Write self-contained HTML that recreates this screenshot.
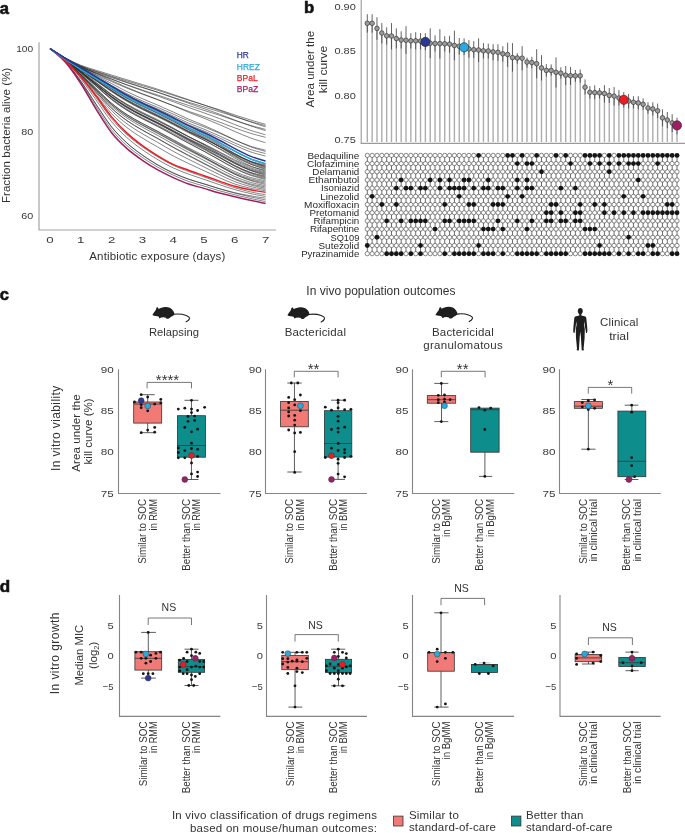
<!DOCTYPE html>
<html><head><meta charset="utf-8"><title>Figure</title>
<style>
html,body{margin:0;padding:0;background:#fff;}
body{width:685px;height:833px;overflow:hidden;}
svg{display:block;font-family:"Liberation Sans", sans-serif;will-change:transform;}
</style></head><body>
<svg width="685" height="833" viewBox="0 0 685 833" fill="#333">
<text x="-0.2" y="13.5" font-size="16.5" font-weight="bold" fill="#111" stroke="#111" stroke-width="0.6">a</text>
<path d="M39,42.3 L39,230 L275.9,230" fill="none" stroke="#a3a3a3" stroke-width="1.2" stroke-linejoin="round"/>
<text x="33.2" y="52" font-size="9.8" text-anchor="end" textLength="17" lengthAdjust="spacingAndGlyphs" fill="#3a3a3a">100</text>
<text x="33.2" y="135.4" font-size="9.8" text-anchor="end" textLength="12" lengthAdjust="spacingAndGlyphs" fill="#3a3a3a">80</text>
<text x="33.2" y="218.8" font-size="9.8" text-anchor="end" textLength="12" lengthAdjust="spacingAndGlyphs" fill="#3a3a3a">60</text>
<text x="50" y="243" font-size="9.8" text-anchor="middle" textLength="7.4" lengthAdjust="spacingAndGlyphs" fill="#3a3a3a">0</text>
<text x="80.8" y="243" font-size="9.8" text-anchor="middle" textLength="7.4" lengthAdjust="spacingAndGlyphs" fill="#3a3a3a">1</text>
<text x="111.6" y="243" font-size="9.8" text-anchor="middle" textLength="7.4" lengthAdjust="spacingAndGlyphs" fill="#3a3a3a">2</text>
<text x="142.4" y="243" font-size="9.8" text-anchor="middle" textLength="7.4" lengthAdjust="spacingAndGlyphs" fill="#3a3a3a">3</text>
<text x="173.2" y="243" font-size="9.8" text-anchor="middle" textLength="7.4" lengthAdjust="spacingAndGlyphs" fill="#3a3a3a">4</text>
<text x="204" y="243" font-size="9.8" text-anchor="middle" textLength="7.4" lengthAdjust="spacingAndGlyphs" fill="#3a3a3a">5</text>
<text x="234.8" y="243" font-size="9.8" text-anchor="middle" textLength="7.4" lengthAdjust="spacingAndGlyphs" fill="#3a3a3a">6</text>
<text x="265.6" y="243" font-size="9.8" text-anchor="middle" textLength="7.4" lengthAdjust="spacingAndGlyphs" fill="#3a3a3a">7</text>
<text x="157.3" y="260.3" font-size="11.5" text-anchor="middle" textLength="136" lengthAdjust="spacing">Antibiotic exposure (days)</text>
<text transform="translate(9.6,135.4) rotate(-90)" font-size="11.5" text-anchor="middle" textLength="135.4" lengthAdjust="spacing">Fraction bacteria alive (%)</text>
<g fill="none" stroke="#2a2a2a" stroke-width="0.7" stroke-opacity="0.82">
<path d="M50,48.5 C52.57,50.15 60.27,55.44 65.4,58.39 C70.53,61.33 75.67,64 80.8,66.17 C85.93,68.34 91.07,69.75 96.2,71.43 C101.33,73.1 106.47,74.63 111.6,76.22 C116.73,77.81 121.87,79.39 127,80.97 C132.13,82.54 137.27,84.1 142.4,85.65 C147.53,87.2 152.67,88.67 157.8,90.27 C162.93,91.87 168.07,93.6 173.2,95.24 C178.33,96.89 183.47,98.52 188.6,100.15 C193.73,101.77 198.87,103.39 204,104.99 C209.13,106.6 214.27,108.13 219.4,109.79 C224.53,111.45 229.67,113.28 234.8,114.96 C239.93,116.64 245.07,118.32 250.2,119.89 C255.33,121.47 263.03,123.64 265.6,124.39"/>
<path d="M50,48.5 C52.57,50.2 60.27,55.64 65.4,58.69 C70.53,61.74 75.67,64.51 80.8,66.81 C85.93,69.1 91.07,70.65 96.2,72.45 C101.33,74.25 106.47,75.9 111.6,77.61 C116.73,79.31 121.87,81 127,82.66 C132.13,84.32 137.27,85.95 142.4,87.56 C147.53,89.16 152.67,90.67 157.8,92.29 C162.93,93.92 168.07,95.66 173.2,97.32 C178.33,98.97 183.47,100.62 188.6,102.23 C193.73,103.84 198.87,105.41 204,106.98 C209.13,108.56 214.27,110.05 219.4,111.67 C224.53,113.28 229.67,115.06 234.8,116.69 C239.93,118.32 245.07,119.93 250.2,121.43 C255.33,122.92 263.03,124.94 265.6,125.64"/>
<path d="M50,48.5 C52.57,50.06 60.27,55.08 65.4,57.87 C70.53,60.66 75.67,63.17 80.8,65.25 C85.93,67.32 91.07,68.69 96.2,70.32 C101.33,71.95 106.47,73.46 111.6,75.04 C116.73,76.62 121.87,78.22 127,79.81 C132.13,81.39 137.27,82.96 142.4,84.54 C147.53,86.11 152.67,87.61 157.8,89.27 C162.93,90.92 168.07,92.72 173.2,94.47 C178.33,96.22 183.47,98 188.6,99.76 C193.73,101.51 198.87,103.25 204,105.02 C209.13,106.8 214.27,108.52 219.4,110.39 C224.53,112.26 229.67,114.32 234.8,116.23 C239.93,118.13 245.07,120.06 250.2,121.83 C255.33,123.61 263.03,126.05 265.6,126.9"/>
<path d="M50,48.5 C52.57,50.23 60.27,55.73 65.4,58.86 C70.53,61.99 75.67,64.84 80.8,67.27 C85.93,69.71 91.07,71.47 96.2,73.45 C101.33,75.44 106.47,77.29 111.6,79.18 C116.73,81.06 121.87,82.96 127,84.77 C132.13,86.58 137.27,88.34 142.4,90.05 C147.53,91.76 152.67,93.35 157.8,95.06 C162.93,96.77 168.07,98.58 173.2,100.32 C178.33,102.06 183.47,103.81 188.6,105.49 C193.73,107.16 198.87,108.74 204,110.37 C209.13,111.99 214.27,113.55 219.4,115.23 C224.53,116.91 229.67,118.77 234.8,120.44 C239.93,122.12 245.07,123.8 250.2,125.29 C255.33,126.78 263.03,128.71 265.6,129.4"/>
<path d="M50,48.5 C52.57,50.1 60.27,55.21 65.4,58.1 C70.53,60.99 75.67,63.6 80.8,65.84 C85.93,68.07 91.07,69.67 96.2,71.5 C101.33,73.33 106.47,75.05 111.6,76.83 C116.73,78.6 121.87,80.42 127,82.16 C132.13,83.91 137.27,85.61 142.4,87.3 C147.53,88.99 152.67,90.56 157.8,92.3 C162.93,94.05 168.07,95.92 173.2,97.74 C178.33,99.57 183.47,101.45 188.6,103.26 C193.73,105.08 198.87,106.81 204,108.62 C209.13,110.43 214.27,112.21 219.4,114.13 C224.53,116.04 229.67,118.16 234.8,120.1 C239.93,122.04 245.07,124 250.2,125.76 C255.33,127.52 263.03,129.83 265.6,130.65"/>
<path d="M50,48.5 C52.57,50.16 60.27,55.41 65.4,58.43 C70.53,61.45 75.67,64.2 80.8,66.63 C85.93,69.06 91.07,70.93 96.2,73.01 C101.33,75.08 106.47,77.05 111.6,79.06 C116.73,81.07 121.87,83.13 127,85.07 C132.13,87 137.27,88.85 142.4,90.68 C147.53,92.5 152.67,94.16 157.8,96 C162.93,97.83 168.07,99.78 173.2,101.69 C178.33,103.6 183.47,105.58 188.6,107.45 C193.73,109.31 198.87,111.03 204,112.86 C209.13,114.7 214.27,116.53 219.4,118.48 C224.53,120.42 229.67,122.59 234.8,124.54 C239.93,126.49 245.07,128.48 250.2,130.19 C255.33,131.9 263.03,134.05 265.6,134.82"/>
<path d="M50,48.5 C52.57,50.25 60.27,55.76 65.4,58.98 C70.53,62.19 75.67,65.12 80.8,67.77 C85.93,70.42 91.07,72.57 96.2,74.87 C101.33,77.18 106.47,79.38 111.6,81.6 C116.73,83.82 121.87,86.1 127,88.2 C132.13,90.3 137.27,92.28 142.4,94.21 C147.53,96.13 152.67,97.87 157.8,99.76 C162.93,101.65 168.07,103.63 173.2,105.56 C178.33,107.49 183.47,109.5 188.6,111.35 C193.73,113.19 198.87,114.83 204,116.62 C209.13,118.4 214.27,120.18 219.4,122.05 C224.53,123.93 229.67,126.01 234.8,127.87 C239.93,129.73 245.07,131.62 250.2,133.19 C255.33,134.77 263.03,136.63 265.6,137.32"/>
<path d="M50,48.5 C52.57,50.13 60.27,55.27 65.4,58.29 C70.53,61.31 75.67,64.05 80.8,66.62 C85.93,69.18 91.07,71.37 96.2,73.69 C101.33,76.02 106.47,78.27 111.6,80.57 C116.73,82.86 121.87,85.25 127,87.44 C132.13,89.63 137.27,91.68 142.4,93.69 C147.53,95.7 152.67,97.51 157.8,99.53 C162.93,101.54 168.07,103.66 173.2,105.78 C178.33,107.9 183.47,110.18 188.6,112.25 C193.73,114.32 198.87,116.15 204,118.2 C209.13,120.25 214.27,122.36 219.4,124.57 C224.53,126.78 229.67,129.25 234.8,131.46 C239.93,133.67 245.07,135.95 250.2,137.83 C255.33,139.71 263.03,141.92 265.6,142.74"/>
<path d="M50,48.5 C52.57,50.28 60.27,55.81 65.4,59.16 C70.53,62.5 75.67,65.57 80.8,68.57 C85.93,71.57 91.07,74.34 96.2,77.17 C101.33,80 106.47,82.77 111.6,85.54 C116.73,88.31 121.87,91.2 127,93.77 C132.13,96.34 137.27,98.7 142.4,100.97 C147.53,103.24 152.67,105.22 157.8,107.4 C162.93,109.59 168.07,111.84 173.2,114.08 C178.33,116.33 183.47,118.77 188.6,120.89 C193.73,123.01 198.87,124.75 204,126.8 C209.13,128.85 214.27,130.97 219.4,133.16 C224.53,135.36 229.67,137.83 234.8,139.98 C239.93,142.14 245.07,144.37 250.2,146.08 C255.33,147.79 263.03,149.55 265.6,150.25"/>
<path d="M50,48.5 C52.57,50.17 60.27,55.37 65.4,58.51 C70.53,61.65 75.67,64.52 80.8,67.35 C85.93,70.19 91.07,72.83 96.2,75.53 C101.33,78.24 106.47,80.9 111.6,83.59 C116.73,86.27 121.87,89.1 127,91.62 C132.13,94.14 137.27,96.45 142.4,98.71 C147.53,100.96 152.67,102.94 157.8,105.16 C162.93,107.37 168.07,109.67 173.2,112 C178.33,114.32 183.47,116.88 188.6,119.12 C193.73,121.36 198.87,123.24 204,125.45 C209.13,127.66 214.27,129.97 219.4,132.38 C224.53,134.78 229.67,137.48 234.8,139.86 C239.93,142.24 245.07,144.72 250.2,146.66 C255.33,148.6 263.03,150.69 265.6,151.5"/>
<path d="M50,48.5 C52.57,50.27 60.27,55.78 65.4,59.14 C70.53,62.5 75.67,65.58 80.8,68.66 C85.93,71.73 91.07,74.64 96.2,77.59 C101.33,80.54 106.47,83.44 111.6,86.34 C116.73,89.23 121.87,92.27 127,94.96 C132.13,97.64 137.27,100.08 142.4,102.44 C147.53,104.79 152.67,106.83 157.8,109.09 C162.93,111.36 168.07,113.67 173.2,116.01 C178.33,118.34 183.47,120.9 188.6,123.1 C193.73,125.29 198.87,127.08 204,129.21 C209.13,131.33 214.27,133.56 219.4,135.86 C224.53,138.15 229.67,140.74 234.8,142.99 C239.93,145.23 245.07,147.57 250.2,149.34 C255.33,151.11 263.03,152.88 265.6,153.58"/>
<path d="M50,48.5 C52.57,50.27 60.27,55.76 65.4,59.13 C70.53,62.51 75.67,65.6 80.8,68.73 C85.93,71.86 91.07,74.88 96.2,77.92 C101.33,80.96 106.47,83.96 111.6,86.95 C116.73,89.94 121.87,93.1 127,95.87 C132.13,98.64 137.27,101.14 142.4,103.56 C147.53,105.98 152.67,108.07 157.8,110.39 C162.93,112.71 168.07,115.08 173.2,117.48 C178.33,119.87 183.47,122.51 188.6,124.77 C193.73,127.03 198.87,128.85 204,131.03 C209.13,133.22 214.27,135.52 219.4,137.89 C224.53,140.26 229.67,142.93 234.8,145.25 C239.93,147.57 245.07,149.99 250.2,151.79 C255.33,153.6 263.03,155.37 265.6,156.09"/>
<path d="M50,48.5 C52.57,50.22 60.27,55.45 65.4,58.79 C70.53,62.14 75.67,65.3 80.8,68.56 C85.93,71.83 91.07,75.12 96.2,78.38 C101.33,81.64 106.47,84.93 111.6,88.12 C116.73,91.3 121.87,94.59 127,97.49 C132.13,100.38 137.27,102.96 142.4,105.48 C147.53,108.01 152.67,110.19 157.8,112.65 C162.93,115.11 168.07,117.66 173.2,120.26 C178.33,122.85 183.47,125.74 188.6,128.24 C193.73,130.74 198.87,132.79 204,135.27 C209.13,137.74 214.27,140.39 219.4,143.09 C224.53,145.78 229.67,148.82 234.8,151.44 C239.93,154.05 245.07,156.76 250.2,158.78 C255.33,160.81 263.03,162.79 265.6,163.59"/>
<path d="M50,48.5 C52.57,50.11 60.27,55.01 65.4,58.17 C70.53,61.33 75.67,64.35 80.8,67.47 C85.93,70.59 91.07,73.75 96.2,76.89 C101.33,80.04 106.47,83.23 111.6,86.31 C116.73,89.39 121.87,92.57 127,95.37 C132.13,98.18 137.27,100.68 142.4,103.16 C147.53,105.64 152.67,107.8 157.8,110.27 C162.93,112.75 168.07,115.33 173.2,117.99 C178.33,120.65 183.47,123.62 188.6,126.23 C193.73,128.85 198.87,131.05 204,133.69 C209.13,136.32 214.27,139.16 219.4,142.05 C224.53,144.94 229.67,148.18 234.8,151 C239.93,153.82 245.07,156.74 250.2,158.97 C255.33,161.21 263.03,163.52 265.6,164.43"/>
<path d="M50,48.5 C52.57,50.32 60.27,55.82 65.4,59.4 C70.53,62.98 75.67,66.44 80.8,69.97 C85.93,73.5 91.07,77.08 96.2,80.58 C101.33,84.09 106.47,87.64 111.6,91 C116.73,94.36 121.87,97.75 127,100.74 C132.13,103.73 137.27,106.35 142.4,108.93 C147.53,111.51 152.67,113.72 157.8,116.2 C162.93,118.68 168.07,121.24 173.2,123.83 C178.33,126.41 183.47,129.25 188.6,131.71 C193.73,134.17 198.87,136.19 204,138.6 C209.13,141.02 214.27,143.6 219.4,146.19 C224.53,148.79 229.67,151.7 234.8,154.17 C239.93,156.64 245.07,159.16 250.2,161.01 C255.33,162.86 263.03,164.55 265.6,165.26"/>
<path d="M50,48.5 C52.57,50.3 60.27,55.72 65.4,59.28 C70.53,62.83 75.67,66.28 80.8,69.81 C85.93,73.33 91.07,76.91 96.2,80.42 C101.33,83.93 106.47,87.49 111.6,90.85 C116.73,94.2 121.87,97.56 127,100.53 C132.13,103.51 137.27,106.11 142.4,108.68 C147.53,111.25 152.67,113.46 157.8,115.95 C162.93,118.44 168.07,121.02 173.2,123.62 C178.33,126.23 183.47,129.08 188.6,131.58 C193.73,134.08 198.87,136.15 204,138.62 C209.13,141.08 214.27,143.72 219.4,146.37 C224.53,149.02 229.67,151.99 234.8,154.51 C239.93,157.03 245.07,159.59 250.2,161.49 C255.33,163.39 263.03,165.15 265.6,165.89"/>
<path d="M50,48.5 C52.57,50.19 60.27,55.28 65.4,58.64 C70.53,62 75.67,65.29 80.8,68.65 C85.93,72.02 91.07,75.46 96.2,78.83 C101.33,82.21 106.47,85.67 111.6,88.91 C116.73,92.15 121.87,95.39 127,98.27 C132.13,101.15 137.27,103.68 142.4,106.2 C147.53,108.73 152.67,110.92 157.8,113.42 C162.93,115.91 168.07,118.53 173.2,121.19 C178.33,123.86 183.47,126.79 188.6,129.4 C193.73,132.01 198.87,134.23 204,136.85 C209.13,139.47 214.27,142.29 219.4,145.12 C224.53,147.96 229.67,151.14 234.8,153.86 C239.93,156.58 245.07,159.35 250.2,161.46 C255.33,163.57 263.03,165.67 265.6,166.51"/>
<path d="M50,48.5 C52.57,50.11 60.27,54.93 65.4,58.15 C70.53,61.36 75.67,64.52 80.8,67.77 C85.93,71.02 91.07,74.36 96.2,77.64 C101.33,80.92 106.47,84.3 111.6,87.46 C116.73,90.62 121.87,93.77 127,96.58 C132.13,99.39 137.27,101.86 142.4,104.35 C147.53,106.84 152.67,109.01 157.8,111.52 C162.93,114.03 168.07,116.67 173.2,119.38 C178.33,122.1 183.47,125.1 188.6,127.79 C193.73,130.49 198.87,132.83 204,135.57 C209.13,138.32 214.27,141.29 219.4,144.27 C224.53,147.26 229.67,150.6 234.8,153.49 C239.93,156.37 245.07,159.3 250.2,161.58 C255.33,163.85 263.03,166.21 265.6,167.14"/>
<path d="M50,48.5 C52.57,50.22 60.27,55.36 65.4,58.8 C70.53,62.24 75.67,65.66 80.8,69.14 C85.93,72.62 91.07,76.19 96.2,79.68 C101.33,83.17 106.47,86.76 111.6,90.07 C116.73,93.39 121.87,96.65 127,99.57 C132.13,102.48 137.27,105.01 142.4,107.55 C147.53,110.1 152.67,112.3 157.8,114.81 C162.93,117.33 168.07,119.96 173.2,122.64 C178.33,125.31 183.47,128.25 188.6,130.87 C193.73,133.49 198.87,135.73 204,138.36 C209.13,140.99 214.27,143.83 219.4,146.66 C224.53,149.49 229.67,152.67 234.8,155.36 C239.93,158.06 245.07,160.78 250.2,162.84 C255.33,164.91 263.03,166.94 265.6,167.76"/>
<path d="M50,48.5 C52.57,50.28 60.27,55.58 65.4,59.16 C70.53,62.73 75.67,66.32 80.8,69.95 C85.93,73.58 91.07,77.3 96.2,80.93 C101.33,84.56 106.47,88.31 111.6,91.72 C116.73,95.14 121.87,98.46 127,101.43 C132.13,104.4 137.27,106.97 142.4,109.54 C147.53,112.11 152.67,114.34 157.8,116.86 C162.93,119.39 168.07,122.03 173.2,124.69 C178.33,127.36 183.47,130.26 188.6,132.85 C193.73,135.44 198.87,137.66 204,140.25 C209.13,142.84 214.27,145.61 219.4,148.38 C224.53,151.15 229.67,154.24 234.8,156.85 C239.93,159.45 245.07,162.06 250.2,164.01 C255.33,165.97 263.03,167.83 265.6,168.6"/>
<path d="M50,48.5 C52.57,50.12 60.27,54.95 65.4,58.24 C70.53,61.54 75.67,64.88 80.8,68.28 C85.93,71.68 91.07,75.2 96.2,78.64 C101.33,82.08 106.47,85.66 111.6,88.92 C116.73,92.18 121.87,95.33 127,98.17 C132.13,101.02 137.27,103.47 142.4,105.98 C147.53,108.49 152.67,110.68 157.8,113.22 C162.93,115.76 168.07,118.45 173.2,121.2 C178.33,123.94 183.47,126.96 188.6,129.7 C193.73,132.45 198.87,134.87 204,137.68 C209.13,140.49 214.27,143.52 219.4,146.55 C224.53,149.59 229.67,152.97 234.8,155.86 C239.93,158.76 245.07,161.65 250.2,163.91 C255.33,166.18 263.03,168.51 265.6,169.43"/>
<path d="M50,48.5 C52.57,50.39 60.27,56.01 65.4,59.85 C70.53,63.69 75.67,67.6 80.8,71.53 C85.93,75.45 91.07,79.5 96.2,83.41 C101.33,87.32 106.47,91.36 111.6,94.98 C116.73,98.6 121.87,102.05 127,105.13 C132.13,108.21 137.27,110.84 142.4,113.48 C147.53,116.11 152.67,118.37 157.8,120.92 C162.93,123.46 168.07,126.12 173.2,128.76 C178.33,131.4 183.47,134.24 188.6,136.78 C193.73,139.31 198.87,141.48 204,143.98 C209.13,146.49 214.27,149.16 219.4,151.8 C224.53,154.43 229.67,157.37 234.8,159.8 C239.93,162.22 245.07,164.59 250.2,166.34 C255.33,168.08 263.03,169.61 265.6,170.26"/>
<path d="M50,48.5 C52.57,50.17 60.27,55.12 65.4,58.55 C70.53,61.98 75.67,65.52 80.8,69.1 C85.93,72.68 91.07,76.41 96.2,80.03 C101.33,83.65 106.47,87.45 111.6,90.83 C116.73,94.21 121.87,97.42 127,100.32 C132.13,103.22 137.27,105.7 142.4,108.24 C147.53,110.78 152.67,113 157.8,115.56 C162.93,118.12 168.07,120.84 173.2,123.59 C178.33,126.35 183.47,129.34 188.6,132.08 C193.73,134.83 198.87,137.27 204,140.08 C209.13,142.88 214.27,145.9 219.4,148.9 C224.53,151.9 229.67,155.24 234.8,158.06 C239.93,160.89 245.07,163.68 250.2,165.85 C255.33,168.03 263.03,170.22 265.6,171.1"/>
<path d="M50,48.5 C52.57,50.34 60.27,55.77 65.4,59.55 C70.53,63.33 75.67,67.25 80.8,71.18 C85.93,75.11 91.07,79.19 96.2,83.12 C101.33,87.06 106.47,91.17 111.6,94.79 C116.73,98.41 121.87,101.8 127,104.86 C132.13,107.91 137.27,110.5 142.4,113.12 C147.53,115.74 152.67,118 157.8,120.58 C162.93,123.15 168.07,125.85 173.2,128.54 C178.33,131.24 183.47,134.12 188.6,136.74 C193.73,139.37 198.87,141.66 204,144.28 C209.13,146.9 214.27,149.72 219.4,152.47 C224.53,155.23 229.67,158.3 234.8,160.83 C239.93,163.37 245.07,165.83 250.2,167.68 C255.33,169.53 263.03,171.22 265.6,171.93"/>
<path d="M50,48.5 C52.57,50.39 60.27,55.95 65.4,59.85 C70.53,63.75 75.67,67.81 80.8,71.88 C85.93,75.94 91.07,80.17 96.2,84.23 C101.33,88.3 106.47,92.55 111.6,96.27 C116.73,99.99 121.87,103.44 127,106.54 C132.13,109.65 137.27,112.27 142.4,114.91 C147.53,117.56 152.67,119.85 157.8,122.43 C162.93,125.01 168.07,127.72 173.2,130.41 C178.33,133.1 183.47,135.95 188.6,138.55 C193.73,141.16 198.87,143.43 204,146.02 C209.13,148.6 214.27,151.37 219.4,154.07 C224.53,156.78 229.67,159.77 234.8,162.23 C239.93,164.68 245.07,167.04 250.2,168.8 C255.33,170.55 263.03,172.1 265.6,172.77"/>
<path d="M50,48.5 C52.57,50.41 60.27,56 65.4,59.95 C70.53,63.9 75.67,68.05 80.8,72.19 C85.93,76.33 91.07,80.65 96.2,84.79 C101.33,88.94 106.47,93.29 111.6,97.07 C116.73,100.84 121.87,104.31 127,107.44 C132.13,110.57 137.27,113.19 142.4,115.85 C147.53,118.52 152.67,120.81 157.8,123.41 C162.93,126 168.07,128.73 173.2,131.42 C178.33,134.12 183.47,136.97 188.6,139.58 C193.73,142.18 198.87,144.48 204,147.07 C209.13,149.66 214.27,152.43 219.4,155.13 C224.53,157.82 229.67,160.81 234.8,163.24 C239.93,165.67 245.07,167.99 250.2,169.72 C255.33,171.45 263.03,172.95 265.6,173.6"/>
<path d="M50,48.5 C52.57,50.36 60.27,55.8 65.4,59.68 C70.53,63.57 75.67,67.68 80.8,71.79 C85.93,75.9 91.07,80.21 96.2,84.34 C101.33,88.48 106.47,92.84 111.6,96.6 C116.73,100.35 121.87,103.77 127,106.88 C132.13,109.98 137.27,112.57 142.4,115.22 C147.53,117.87 152.67,120.17 157.8,122.78 C162.93,125.38 168.07,128.14 173.2,130.87 C178.33,133.59 183.47,136.48 188.6,139.14 C193.73,141.81 198.87,144.19 204,146.86 C209.13,149.53 214.27,152.39 219.4,155.17 C224.53,157.96 229.67,161.04 234.8,163.56 C239.93,166.07 245.07,168.47 250.2,170.28 C255.33,172.09 263.03,173.74 265.6,174.43"/>
<path d="M50,48.5 C52.57,50.23 60.27,55.25 65.4,58.89 C70.53,62.54 75.67,66.45 80.8,70.37 C85.93,74.29 91.07,78.43 96.2,82.41 C101.33,86.4 106.47,90.65 111.6,94.28 C116.73,97.91 121.87,101.19 127,104.19 C132.13,107.19 137.27,109.69 142.4,112.29 C147.53,114.89 152.67,117.16 157.8,119.78 C162.93,122.4 168.07,125.21 173.2,128.01 C178.33,130.81 183.47,133.79 188.6,136.59 C193.73,139.39 198.87,141.94 204,144.8 C209.13,147.66 214.27,150.74 219.4,153.75 C224.53,156.76 229.67,160.08 234.8,162.84 C239.93,165.6 245.07,168.24 250.2,170.32 C255.33,172.39 263.03,174.44 265.6,175.27"/>
<path d="M50,48.5 C52.57,50.42 60.27,55.98 65.4,60.01 C70.53,64.04 75.67,68.36 80.8,72.67 C85.93,76.97 91.07,81.5 96.2,85.84 C101.33,90.17 106.47,94.78 111.6,98.68 C116.73,102.58 121.87,106.07 127,109.25 C132.13,112.42 137.27,115.05 142.4,117.74 C147.53,120.43 152.67,122.75 157.8,125.39 C162.93,128.02 168.07,130.8 173.2,133.54 C178.33,136.27 183.47,139.12 188.6,141.78 C193.73,144.43 198.87,146.82 204,149.47 C209.13,152.12 214.27,154.95 219.4,157.68 C224.53,160.42 229.67,163.43 234.8,165.86 C239.93,168.29 245.07,170.55 250.2,172.26 C255.33,173.97 263.03,175.46 265.6,176.1"/>
<path d="M50,48.5 C52.57,50.32 60.27,55.54 65.4,59.39 C70.53,63.24 75.67,67.42 80.8,71.6 C85.93,75.77 91.07,80.18 96.2,84.42 C101.33,88.65 106.47,93.19 111.6,97.01 C116.73,100.83 121.87,104.21 127,107.32 C132.13,110.42 137.27,112.97 142.4,115.62 C147.53,118.28 152.67,120.59 157.8,123.24 C162.93,125.88 168.07,128.71 173.2,131.5 C178.33,134.29 183.47,137.22 188.6,139.98 C193.73,142.74 198.87,145.27 204,148.07 C209.13,150.87 214.27,153.88 219.4,156.78 C224.53,159.69 229.67,162.89 234.8,165.51 C239.93,168.12 245.07,170.57 250.2,172.48 C255.33,174.38 263.03,176.19 265.6,176.94"/>
<path d="M50,48.5 C52.57,50.31 60.27,55.49 65.4,59.35 C70.53,63.21 75.67,67.43 80.8,71.64 C85.93,75.85 91.07,80.33 96.2,84.61 C101.33,88.9 106.47,93.52 111.6,97.37 C116.73,101.22 121.87,104.61 127,107.72 C132.13,110.84 137.27,113.38 142.4,116.04 C147.53,118.71 152.67,121.03 157.8,123.69 C162.93,126.35 168.07,129.2 173.2,132.01 C178.33,134.81 183.47,137.75 188.6,140.53 C193.73,143.32 198.87,145.88 204,148.71 C209.13,151.54 214.27,154.57 219.4,157.5 C224.53,160.43 229.67,163.65 234.8,166.28 C239.93,168.91 245.07,171.36 250.2,173.27 C255.33,175.19 263.03,177.02 265.6,177.77"/>
<path d="M50,48.5 C52.57,50.39 60.27,55.81 65.4,59.85 C70.53,63.89 75.67,68.33 80.8,72.75 C85.93,77.16 91.07,81.85 96.2,86.33 C101.33,90.81 106.47,95.64 111.6,99.64 C116.73,103.65 121.87,107.14 127,110.34 C132.13,113.54 137.27,116.15 142.4,118.86 C147.53,121.57 152.67,123.92 157.8,126.6 C162.93,129.27 168.07,132.12 173.2,134.91 C178.33,137.69 183.47,140.57 188.6,143.29 C193.73,146.02 198.87,148.53 204,151.27 C209.13,154.01 214.27,156.94 219.4,159.75 C224.53,162.56 229.67,165.64 234.8,168.12 C239.93,170.59 245.07,172.86 250.2,174.61 C255.33,176.36 263.03,177.94 265.6,178.6"/>
<path d="M50,48.5 C52.57,50.35 60.27,55.63 65.4,59.61 C70.53,63.6 75.67,68.02 80.8,72.41 C85.93,76.81 91.07,81.5 96.2,85.99 C101.33,90.48 106.47,95.34 111.6,99.34 C116.73,103.34 121.87,106.81 127,109.99 C132.13,113.18 137.27,115.76 142.4,118.47 C147.53,121.17 152.67,123.53 157.8,126.22 C162.93,128.91 168.07,131.79 173.2,134.6 C178.33,137.41 183.47,140.32 188.6,143.09 C193.73,145.87 198.87,148.45 204,151.25 C209.13,154.06 214.27,157.07 219.4,159.95 C224.53,162.83 229.67,165.98 234.8,168.52 C239.93,171.07 245.07,173.39 250.2,175.21 C255.33,177.03 263.03,178.73 265.6,179.44"/>
<path d="M50,48.5 C52.57,50.5 60.27,56.2 65.4,60.51 C70.53,64.82 75.67,69.61 80.8,74.35 C85.93,79.1 91.07,84.16 96.2,88.99 C101.33,93.81 106.47,99.04 111.6,103.31 C116.73,107.57 121.87,111.22 127,114.57 C132.13,117.92 137.27,120.61 142.4,123.41 C147.53,126.2 152.67,128.61 157.8,131.32 C162.93,134.03 168.07,136.91 173.2,139.67 C178.33,142.44 183.47,145.24 188.6,147.9 C193.73,150.57 198.87,153.02 204,155.67 C209.13,158.31 214.27,161.12 219.4,163.77 C224.53,166.43 229.67,169.32 234.8,171.59 C239.93,173.85 245.07,175.85 250.2,177.37 C255.33,178.89 263.03,180.14 265.6,180.69"/>
<path d="M50,48.5 C52.57,50.52 60.27,56.22 65.4,60.6 C70.53,64.97 75.67,69.87 80.8,74.73 C85.93,79.59 91.07,84.79 96.2,89.75 C101.33,94.71 106.47,100.12 111.6,104.49 C116.73,108.86 121.87,112.56 127,115.96 C132.13,119.36 137.27,122.07 142.4,124.89 C147.53,127.71 152.67,130.16 157.8,132.89 C162.93,135.63 168.07,138.53 173.2,141.31 C178.33,144.08 183.47,146.86 188.6,149.52 C193.73,152.19 198.87,154.67 204,157.31 C209.13,159.96 214.27,162.76 219.4,165.39 C224.53,168.02 229.67,170.88 234.8,173.1 C239.93,175.33 245.07,177.26 250.2,178.73 C255.33,180.2 263.03,181.41 265.6,181.94"/>
<path d="M50,48.5 C52.57,50.49 60.27,56.08 65.4,60.44 C70.53,64.79 75.67,69.72 80.8,74.62 C85.93,79.53 91.07,84.81 96.2,89.84 C101.33,94.88 106.47,100.41 111.6,104.84 C116.73,109.27 121.87,112.98 127,116.4 C132.13,119.83 137.27,122.53 142.4,125.37 C147.53,128.21 152.67,130.67 157.8,133.43 C162.93,136.19 168.07,139.14 173.2,141.94 C178.33,144.74 183.47,147.52 188.6,150.22 C193.73,152.92 198.87,155.46 204,158.15 C209.13,160.84 214.27,163.68 219.4,166.35 C224.53,169.02 229.67,171.91 234.8,174.16 C239.93,176.41 245.07,178.35 250.2,179.85 C255.33,181.36 263.03,182.63 265.6,183.19"/>
<path d="M50,48.5 C52.57,50.37 60.27,55.57 65.4,59.73 C70.53,63.89 75.67,68.68 80.8,73.46 C85.93,78.24 91.07,83.44 96.2,88.42 C101.33,93.4 106.47,98.95 111.6,103.33 C116.73,107.71 121.87,111.35 127,114.72 C132.13,118.09 137.27,120.74 142.4,123.56 C147.53,126.38 152.67,128.84 157.8,131.63 C162.93,134.42 168.07,137.43 173.2,140.29 C178.33,143.15 183.47,145.99 188.6,148.8 C193.73,151.61 198.87,154.3 204,157.14 C209.13,159.98 214.27,162.99 219.4,165.83 C224.53,168.67 229.67,171.74 234.8,174.18 C239.93,176.61 245.07,178.72 250.2,180.43 C255.33,182.15 263.03,183.77 265.6,184.44"/>
<path d="M50,48.5 C52.57,50.46 60.27,55.87 65.4,60.24 C70.53,64.6 75.67,69.64 80.8,74.67 C85.93,79.71 91.07,85.19 96.2,90.44 C101.33,95.68 106.47,101.55 111.6,106.16 C116.73,110.76 121.87,114.55 127,118.06 C132.13,121.56 137.27,124.31 142.4,127.2 C147.53,130.1 152.67,132.62 157.8,135.44 C162.93,138.25 168.07,141.27 173.2,144.11 C178.33,146.94 183.47,149.7 188.6,152.43 C193.73,155.16 198.87,157.78 204,160.51 C209.13,163.23 214.27,166.11 219.4,168.79 C224.53,171.47 229.67,174.36 234.8,176.6 C239.93,178.84 245.07,180.73 250.2,182.24 C255.33,183.76 263.03,185.12 265.6,185.69"/>
<path d="M50,48.5 C52.57,50.5 60.27,56.02 65.4,60.51 C70.53,65 75.67,70.22 80.8,75.44 C85.93,80.66 91.07,86.37 96.2,91.84 C101.33,97.31 106.47,103.47 111.6,108.26 C116.73,113.05 121.87,116.97 127,120.59 C132.13,124.22 137.27,127.03 142.4,130 C147.53,132.96 152.67,135.53 157.8,138.38 C162.93,141.23 168.07,144.28 173.2,147.09 C178.33,149.91 183.47,152.6 188.6,155.28 C193.73,157.96 198.87,160.53 204,163.18 C209.13,165.83 214.27,168.6 219.4,171.18 C224.53,173.75 229.67,176.5 234.8,178.61 C239.93,180.72 245.07,182.44 250.2,183.83 C255.33,185.22 263.03,186.43 265.6,186.94"/>
<path d="M50,48.5 C52.57,50.44 60.27,55.73 65.4,60.15 C70.53,64.56 75.67,69.75 80.8,74.97 C85.93,80.19 91.07,85.95 96.2,91.49 C101.33,97.04 106.47,103.35 111.6,108.22 C116.73,113.09 121.87,117.05 127,120.72 C132.13,124.38 137.27,127.21 142.4,130.21 C147.53,133.21 152.67,135.82 157.8,138.71 C162.93,141.59 168.07,144.69 173.2,147.52 C178.33,150.36 183.47,153.04 188.6,155.75 C193.73,158.45 198.87,161.08 204,163.77 C209.13,166.46 214.27,169.27 219.4,171.88 C224.53,174.49 229.67,177.28 234.8,179.43 C239.93,181.58 245.07,183.34 250.2,184.8 C255.33,186.26 263.03,187.63 265.6,188.19"/>
<path d="M50,48.5 C52.57,50.49 60.27,55.9 65.4,60.46 C70.53,65.01 75.67,70.39 80.8,75.83 C85.93,81.28 91.07,87.29 96.2,93.11 C101.33,98.93 106.47,105.61 111.6,110.74 C116.73,115.86 121.87,120.02 127,123.85 C132.13,127.68 137.27,130.64 142.4,133.74 C147.53,136.84 152.67,139.53 157.8,142.46 C162.93,145.39 168.07,148.5 173.2,151.3 C178.33,154.11 183.47,156.66 188.6,159.27 C193.73,161.88 198.87,164.41 204,166.97 C209.13,169.53 214.27,172.18 219.4,174.62 C224.53,177.07 229.67,179.67 234.8,181.64 C239.93,183.61 245.07,185.16 250.2,186.46 C255.33,187.76 263.03,188.95 265.6,189.45"/>
<path d="M50,48.5 C52.57,50.55 60.27,56.09 65.4,60.8 C70.53,65.52 75.67,71.1 80.8,76.79 C85.93,82.49 91.07,88.8 96.2,94.95 C101.33,101.09 106.47,108.23 111.6,113.67 C116.73,119.12 121.87,123.55 127,127.61 C132.13,131.68 137.27,134.81 142.4,138.06 C147.53,141.3 152.67,144.11 157.8,147.09 C162.93,150.07 168.07,153.2 173.2,155.93 C178.33,158.67 183.47,161.05 188.6,163.51 C193.73,165.98 198.87,168.35 204,170.72 C209.13,173.09 214.27,175.5 219.4,177.72 C224.53,179.94 229.67,182.29 234.8,184.04 C239.93,185.78 245.07,187.08 250.2,188.19 C255.33,189.3 263.03,190.28 265.6,190.7"/>
<path d="M50,48.5 C52.57,50.5 60.27,55.66 65.4,60.49 C70.53,65.31 75.67,71.23 80.8,77.44 C85.93,83.64 91.07,90.84 96.2,97.74 C101.33,104.63 106.47,112.65 111.6,118.81 C116.73,124.98 121.87,130.04 127,134.72 C132.13,139.39 137.27,143.18 142.4,146.87 C147.53,150.57 152.67,153.82 157.8,156.89 C162.93,159.96 168.07,162.87 173.2,165.3 C178.33,167.73 183.47,169.51 188.6,171.44 C193.73,173.38 198.87,175.05 204,176.89 C209.13,178.73 214.27,180.66 219.4,182.47 C224.53,184.28 229.67,186.21 234.8,187.76 C239.93,189.31 245.07,190.59 250.2,191.77 C255.33,192.96 263.03,194.35 265.6,194.87"/>
<path d="M50,48.5 C52.57,50.57 60.27,55.85 65.4,60.89 C70.53,65.93 75.67,72.19 80.8,78.74 C85.93,85.28 91.07,93 96.2,100.17 C101.33,107.33 106.47,115.48 111.6,121.73 C116.73,127.98 121.87,132.99 127,137.66 C132.13,142.32 137.27,146.07 142.4,149.74 C147.53,153.41 152.67,156.65 157.8,159.68 C162.93,162.72 168.07,165.54 173.2,167.95 C178.33,170.36 183.47,172.24 188.6,174.14 C193.73,176.03 198.87,177.58 204,179.34 C209.13,181.1 214.27,182.97 219.4,184.68 C224.53,186.4 229.67,188.16 234.8,189.62 C239.93,191.09 245.07,192.33 250.2,193.48 C255.33,194.64 263.03,196.03 265.6,196.53"/>
<path d="M50,48.5 C52.57,50.73 60.27,56.45 65.4,61.9 C70.53,67.35 75.67,74.15 80.8,81.21 C85.93,88.27 91.07,96.69 96.2,104.28 C101.33,111.87 106.47,120.3 111.6,126.75 C116.73,133.21 121.87,138.28 127,143.03 C132.13,147.77 137.27,151.55 142.4,155.24 C147.53,158.93 152.67,162.17 157.8,165.17 C162.93,168.17 168.07,170.88 173.2,173.23 C178.33,175.58 183.47,177.48 188.6,179.26 C193.73,181.04 198.87,182.35 204,183.9 C209.13,185.45 214.27,187.12 219.4,188.58 C224.53,190.04 229.67,191.45 234.8,192.66 C239.93,193.86 245.07,194.87 250.2,195.79 C255.33,196.72 263.03,197.8 265.6,198.2"/>
<path d="M50,48.5 C52.57,50.68 60.27,56.16 65.4,61.6 C70.53,67.04 75.67,73.94 80.8,81.13 C85.93,88.31 91.07,97.04 96.2,104.72 C101.33,112.39 106.47,120.78 111.6,127.17 C116.73,133.57 121.87,138.45 127,143.09 C132.13,147.72 137.27,151.38 142.4,154.99 C147.53,158.61 152.67,161.81 157.8,164.77 C162.93,167.73 168.07,170.39 173.2,172.77 C178.33,175.15 183.47,177.22 188.6,179.07 C193.73,180.92 198.87,182.23 204,183.85 C209.13,185.47 214.27,187.25 219.4,188.8 C224.53,190.34 229.67,191.8 234.8,193.13 C239.93,194.46 245.07,195.67 250.2,196.79 C255.33,197.92 263.03,199.36 265.6,199.87"/>
<path d="M50,48.5 C52.57,50.74 60.27,56.3 65.4,61.93 C70.53,67.56 75.67,74.78 80.8,82.28 C85.93,89.78 91.07,99.01 96.2,106.93 C101.33,114.86 106.47,123.35 111.6,129.82 C116.73,136.28 121.87,141.1 127,145.71 C132.13,150.33 137.27,153.94 142.4,157.52 C147.53,161.11 152.67,164.29 157.8,167.22 C162.93,170.14 168.07,172.71 173.2,175.08 C178.33,177.45 183.47,179.63 188.6,181.45 C193.73,183.28 198.87,184.48 204,186.03 C209.13,187.59 214.27,189.33 219.4,190.8 C224.53,192.26 229.67,193.57 234.8,194.84 C239.93,196.11 245.07,197.31 250.2,198.42 C255.33,199.54 263.03,201.02 265.6,201.54"/>
</g>
<path d="M50,48.5 C52.57,50.79 60.27,56.42 65.4,62.26 C70.53,68.1 75.67,75.67 80.8,83.53 C85.93,91.38 91.07,101.18 96.2,109.38 C101.33,117.58 106.47,126.2 111.6,132.73 C116.73,139.27 121.87,143.99 127,148.58 C132.13,153.17 137.27,156.71 142.4,160.26 C147.53,163.8 152.67,166.96 157.8,169.85 C162.93,172.73 168.07,175.2 173.2,177.56 C178.33,179.92 183.47,182.22 188.6,184.03 C193.73,185.83 198.87,186.91 204,188.4 C209.13,189.9 214.27,191.6 219.4,192.99 C224.53,194.38 229.67,195.53 234.8,196.74 C239.93,197.96 245.07,199.16 250.2,200.29 C255.33,201.41 263.03,202.96 265.6,203.5" fill="none" stroke="#9e1f63" stroke-width="1.5"/>
<path d="M50,48.5 C52.57,50.52 60.27,55.87 65.4,60.59 C70.53,65.32 75.67,70.95 80.8,76.86 C85.93,82.76 91.07,89.37 96.2,96.04 C101.33,102.71 106.47,110.7 111.6,116.89 C116.73,123.07 121.87,128.36 127,133.15 C132.13,137.95 137.27,141.87 142.4,145.66 C147.53,149.45 152.67,152.75 157.8,155.88 C162.93,159 168.07,162.03 173.2,164.43 C178.33,166.82 183.47,168.39 188.6,170.26 C193.73,172.14 198.87,173.88 204,175.69 C209.13,177.49 214.27,179.33 219.4,181.11 C224.53,182.88 229.67,184.86 234.8,186.32 C239.93,187.78 245.07,188.87 250.2,189.86 C255.33,190.86 263.03,191.88 265.6,192.28" fill="none" stroke="#ed1c24" stroke-width="1.5"/>
<path d="M50,48.5 C52.57,50.3 60.27,55.86 65.4,59.33 C70.53,62.8 75.67,66.11 80.8,69.32 C85.93,72.53 91.07,75.5 96.2,78.58 C101.33,81.67 106.47,84.76 111.6,87.85 C116.73,90.93 121.87,94.23 127,97.11 C132.13,99.99 137.27,102.59 142.4,105.12 C147.53,107.65 152.67,109.84 157.8,112.3 C162.93,114.76 168.07,117.3 173.2,119.9 C178.33,122.5 183.47,125.41 188.6,127.91 C193.73,130.41 198.87,132.42 204,134.88 C209.13,137.34 214.27,139.98 219.4,142.68 C224.53,145.39 229.67,148.44 234.8,151.11 C239.93,153.78 245.07,156.59 250.2,158.71 C255.33,160.82 263.03,162.95 265.6,163.8" fill="none" stroke="#27aae1" stroke-width="1.5"/>
<path d="M50,48.5 C52.57,50.17 60.27,55.31 65.4,58.51 C70.53,61.71 75.67,64.62 80.8,67.68 C85.93,70.74 91.07,73.8 96.2,76.86 C101.33,79.91 106.47,82.97 111.6,86.03 C116.73,89.09 121.87,92.35 127,95.2 C132.13,98.05 137.27,100.62 142.4,103.13 C147.53,105.63 152.67,107.78 157.8,110.22 C162.93,112.65 168.07,115.15 173.2,117.72 C178.33,120.29 183.47,123.18 188.6,125.64 C193.73,128.11 198.87,130.09 204,132.53 C209.13,134.96 214.27,137.56 219.4,140.24 C224.53,142.92 229.67,145.94 234.8,148.58 C239.93,151.22 245.07,154 250.2,156.09 C255.33,158.17 263.03,160.26 265.6,161.09" fill="none" stroke="#2b3990" stroke-width="1.5"/>
<text x="236.8" y="58.4" font-size="9.3" textLength="12.1" lengthAdjust="spacingAndGlyphs" fill="#2b3990" stroke="#2b3990" stroke-width="0.25">HR</text>
<text x="236.8" y="69.8" font-size="9.3" textLength="23" lengthAdjust="spacingAndGlyphs" fill="#27aae1" stroke="#27aae1" stroke-width="0.25">HREZ</text>
<text x="236.8" y="80.7" font-size="9.3" textLength="21" lengthAdjust="spacingAndGlyphs" fill="#ed1c24" stroke="#ed1c24" stroke-width="0.25">BPaL</text>
<text x="236.8" y="92.3" font-size="9.3" textLength="21.5" lengthAdjust="spacingAndGlyphs" fill="#9e1f63" stroke="#9e1f63" stroke-width="0.25">BPaZ</text>
<text x="304.1" y="13.4" font-size="16.5" font-weight="bold" textLength="10.2" lengthAdjust="spacingAndGlyphs" fill="#111" stroke="#111" stroke-width="0.6">b</text>
<text x="355.8" y="10" font-size="9.8" text-anchor="end" textLength="21.4" lengthAdjust="spacingAndGlyphs" fill="#3a3a3a">0.90</text>
<text x="355.8" y="54.33" font-size="9.8" text-anchor="end" textLength="21.4" lengthAdjust="spacingAndGlyphs" fill="#3a3a3a">0.85</text>
<text x="355.8" y="98.66" font-size="9.8" text-anchor="end" textLength="21.4" lengthAdjust="spacingAndGlyphs" fill="#3a3a3a">0.80</text>
<text x="355.8" y="142.99" font-size="9.8" text-anchor="end" textLength="21.4" lengthAdjust="spacingAndGlyphs" fill="#3a3a3a">0.75</text>
<text transform="translate(313.6,69.2) rotate(-90)" font-size="11.5" text-anchor="middle" textLength="76.8" lengthAdjust="spacing">Area under the</text>
<text transform="translate(326.8,69.5) rotate(-90)" font-size="11.8" text-anchor="middle" textLength="47.4" lengthAdjust="spacingAndGlyphs">kill curve</text>
<g stroke="#adadad" stroke-width="1.4">
<line x1="367.3" y1="23.3" x2="367.3" y2="142"/>
<line x1="372.14" y1="23.3" x2="372.14" y2="142"/>
<line x1="376.98" y1="28.4" x2="376.98" y2="142"/>
<line x1="381.82" y1="33" x2="381.82" y2="142"/>
<line x1="386.66" y1="35.8" x2="386.66" y2="142"/>
<line x1="391.5" y1="36" x2="391.5" y2="142"/>
<line x1="396.33" y1="38.5" x2="396.33" y2="142"/>
<line x1="401.17" y1="40" x2="401.17" y2="142"/>
<line x1="406.01" y1="40.2" x2="406.01" y2="142"/>
<line x1="410.85" y1="40.8" x2="410.85" y2="142"/>
<line x1="415.69" y1="40.8" x2="415.69" y2="142"/>
<line x1="420.53" y1="41" x2="420.53" y2="142"/>
<line x1="425.37" y1="41.9" x2="425.37" y2="142"/>
<line x1="430.21" y1="43.2" x2="430.21" y2="142"/>
<line x1="435.05" y1="43.5" x2="435.05" y2="142"/>
<line x1="439.88" y1="43.6" x2="439.88" y2="142"/>
<line x1="444.72" y1="43.8" x2="444.72" y2="142"/>
<line x1="449.56" y1="44.1" x2="449.56" y2="142"/>
<line x1="454.4" y1="45.4" x2="454.4" y2="142"/>
<line x1="459.24" y1="46.3" x2="459.24" y2="142"/>
<line x1="464.08" y1="47.3" x2="464.08" y2="142"/>
<line x1="468.92" y1="48.9" x2="468.92" y2="142"/>
<line x1="473.76" y1="49.7" x2="473.76" y2="142"/>
<line x1="478.6" y1="50" x2="478.6" y2="142"/>
<line x1="483.44" y1="50.8" x2="483.44" y2="142"/>
<line x1="488.28" y1="51" x2="488.28" y2="142"/>
<line x1="493.11" y1="51.9" x2="493.11" y2="142"/>
<line x1="497.95" y1="52.3" x2="497.95" y2="142"/>
<line x1="502.79" y1="53.8" x2="502.79" y2="142"/>
<line x1="507.63" y1="54.5" x2="507.63" y2="142"/>
<line x1="512.47" y1="57.6" x2="512.47" y2="142"/>
<line x1="517.31" y1="58" x2="517.31" y2="142"/>
<line x1="522.15" y1="58.2" x2="522.15" y2="142"/>
<line x1="526.99" y1="62.1" x2="526.99" y2="142"/>
<line x1="531.83" y1="62.5" x2="531.83" y2="142"/>
<line x1="536.66" y1="63.7" x2="536.66" y2="142"/>
<line x1="541.5" y1="67.9" x2="541.5" y2="142"/>
<line x1="546.34" y1="70.4" x2="546.34" y2="142"/>
<line x1="551.18" y1="70.4" x2="551.18" y2="142"/>
<line x1="556.02" y1="72.3" x2="556.02" y2="142"/>
<line x1="560.86" y1="73.2" x2="560.86" y2="142"/>
<line x1="565.7" y1="75.2" x2="565.7" y2="142"/>
<line x1="570.54" y1="75.7" x2="570.54" y2="142"/>
<line x1="575.38" y1="75.8" x2="575.38" y2="142"/>
<line x1="580.22" y1="75.8" x2="580.22" y2="142"/>
<line x1="585.06" y1="87.2" x2="585.06" y2="142"/>
<line x1="589.89" y1="92.3" x2="589.89" y2="142"/>
<line x1="594.73" y1="92.6" x2="594.73" y2="142"/>
<line x1="599.57" y1="92.9" x2="599.57" y2="142"/>
<line x1="604.41" y1="93.5" x2="604.41" y2="142"/>
<line x1="609.25" y1="95.4" x2="609.25" y2="142"/>
<line x1="614.09" y1="96.1" x2="614.09" y2="142"/>
<line x1="618.93" y1="98" x2="618.93" y2="142"/>
<line x1="623.77" y1="99.8" x2="623.77" y2="142"/>
<line x1="628.61" y1="101" x2="628.61" y2="142"/>
<line x1="633.45" y1="102.3" x2="633.45" y2="142"/>
<line x1="638.28" y1="102.9" x2="638.28" y2="142"/>
<line x1="643.12" y1="104.3" x2="643.12" y2="142"/>
<line x1="647.96" y1="108" x2="647.96" y2="142"/>
<line x1="652.8" y1="108.9" x2="652.8" y2="142"/>
<line x1="657.64" y1="110.8" x2="657.64" y2="142"/>
<line x1="662.48" y1="117.8" x2="662.48" y2="142"/>
<line x1="667.32" y1="120" x2="667.32" y2="142"/>
<line x1="672.16" y1="122.9" x2="672.16" y2="142"/>
<line x1="677" y1="125.4" x2="677" y2="142"/>
</g>
<g stroke="#3c3c3c" stroke-width="0.8">
<line x1="367.3" y1="14.2" x2="367.3" y2="32.6"/>
<line x1="372.14" y1="14.2" x2="372.14" y2="32.6"/>
<line x1="376.98" y1="17.2" x2="376.98" y2="39.8"/>
<line x1="381.82" y1="23.1" x2="381.82" y2="43.3"/>
<line x1="386.66" y1="27.3" x2="386.66" y2="44.6"/>
<line x1="391.5" y1="23.1" x2="391.5" y2="49.4"/>
<line x1="396.33" y1="28.4" x2="396.33" y2="48.5"/>
<line x1="401.17" y1="31.3" x2="401.17" y2="48.5"/>
<line x1="406.01" y1="26.2" x2="406.01" y2="53.8"/>
<line x1="410.85" y1="33.2" x2="410.85" y2="48.5"/>
<line x1="415.69" y1="32.2" x2="415.69" y2="49.4"/>
<line x1="420.53" y1="33.1" x2="420.53" y2="49.3"/>
<line x1="425.37" y1="33.1" x2="425.37" y2="50.2"/>
<line x1="430.21" y1="28.3" x2="430.21" y2="58.1"/>
<line x1="435.05" y1="35.3" x2="435.05" y2="51.5"/>
<line x1="439.88" y1="29.2" x2="439.88" y2="58.5"/>
<line x1="444.72" y1="36.2" x2="444.72" y2="51.5"/>
<line x1="449.56" y1="35.8" x2="449.56" y2="52.8"/>
<line x1="454.4" y1="30.7" x2="454.4" y2="60.3"/>
<line x1="459.24" y1="38" x2="459.24" y2="54.6"/>
<line x1="464.08" y1="38.4" x2="464.08" y2="55"/>
<line x1="468.92" y1="40.1" x2="468.92" y2="57.7"/>
<line x1="473.76" y1="41.2" x2="473.76" y2="57.8"/>
<line x1="478.6" y1="38.3" x2="478.6" y2="62"/>
<line x1="483.44" y1="43.1" x2="483.44" y2="58.5"/>
<line x1="488.28" y1="43.6" x2="488.28" y2="58.5"/>
<line x1="493.11" y1="44.2" x2="493.11" y2="60.2"/>
<line x1="497.95" y1="44.2" x2="497.95" y2="60.7"/>
<line x1="502.79" y1="46.2" x2="502.79" y2="61.5"/>
<line x1="507.63" y1="42.7" x2="507.63" y2="66.8"/>
<line x1="512.47" y1="43.1" x2="512.47" y2="71.6"/>
<line x1="517.31" y1="53.2" x2="517.31" y2="63.7"/>
<line x1="522.15" y1="46.2" x2="522.15" y2="70.3"/>
<line x1="526.99" y1="57.6" x2="526.99" y2="67.7"/>
<line x1="531.83" y1="56.8" x2="531.83" y2="68.2"/>
<line x1="536.66" y1="49.2" x2="536.66" y2="78.3"/>
<line x1="541.5" y1="55.1" x2="541.5" y2="80.5"/>
<line x1="546.34" y1="64.1" x2="546.34" y2="76.5"/>
<line x1="551.18" y1="64.4" x2="551.18" y2="75.7"/>
<line x1="556.02" y1="57.3" x2="556.02" y2="87.5"/>
<line x1="560.86" y1="67.3" x2="560.86" y2="78.7"/>
<line x1="565.7" y1="66" x2="565.7" y2="84.9"/>
<line x1="570.54" y1="66.9" x2="570.54" y2="84.9"/>
<line x1="575.38" y1="70" x2="575.38" y2="81.8"/>
<line x1="580.22" y1="69.5" x2="580.22" y2="82.7"/>
<line x1="585.06" y1="79.4" x2="585.06" y2="94.5"/>
<line x1="589.89" y1="86.2" x2="589.89" y2="98.5"/>
<line x1="594.73" y1="85.3" x2="594.73" y2="99.3"/>
<line x1="599.57" y1="88" x2="599.57" y2="98.5"/>
<line x1="604.41" y1="85.1" x2="604.41" y2="102.4"/>
<line x1="609.25" y1="88" x2="609.25" y2="102.8"/>
<line x1="614.09" y1="87.1" x2="614.09" y2="105.5"/>
<line x1="618.93" y1="90.1" x2="618.93" y2="105.5"/>
<line x1="623.77" y1="92" x2="623.77" y2="107.5"/>
<line x1="628.61" y1="94" x2="628.61" y2="108.5"/>
<line x1="633.45" y1="96.2" x2="633.45" y2="108.5"/>
<line x1="638.28" y1="96.2" x2="638.28" y2="109.3"/>
<line x1="643.12" y1="98.4" x2="643.12" y2="109.8"/>
<line x1="647.96" y1="102.3" x2="647.96" y2="113.7"/>
<line x1="652.8" y1="102.3" x2="652.8" y2="115.5"/>
<line x1="657.64" y1="103.6" x2="657.64" y2="118.1"/>
<line x1="662.48" y1="109.3" x2="662.48" y2="126.4"/>
<line x1="667.32" y1="112" x2="667.32" y2="128.2"/>
<line x1="672.16" y1="114.2" x2="672.16" y2="132.1"/>
<line x1="677" y1="117.7" x2="677" y2="134.3"/>
</g>
<g fill="#9c9c9c" stroke="#333" stroke-width="0.7">
<circle cx="367.3" cy="23.3" r="2.3"/>
<circle cx="372.14" cy="23.3" r="2.3"/>
<circle cx="376.98" cy="28.4" r="2.3"/>
<circle cx="381.82" cy="33" r="2.3"/>
<circle cx="386.66" cy="35.8" r="2.3"/>
<circle cx="391.5" cy="36" r="2.3"/>
<circle cx="396.33" cy="38.5" r="2.3"/>
<circle cx="401.17" cy="40" r="2.3"/>
<circle cx="406.01" cy="40.2" r="2.3"/>
<circle cx="410.85" cy="40.8" r="2.3"/>
<circle cx="415.69" cy="40.8" r="2.3"/>
<circle cx="420.53" cy="41" r="2.3"/>
<circle cx="430.21" cy="43.2" r="2.3"/>
<circle cx="435.05" cy="43.5" r="2.3"/>
<circle cx="439.88" cy="43.6" r="2.3"/>
<circle cx="444.72" cy="43.8" r="2.3"/>
<circle cx="449.56" cy="44.1" r="2.3"/>
<circle cx="454.4" cy="45.4" r="2.3"/>
<circle cx="459.24" cy="46.3" r="2.3"/>
<circle cx="468.92" cy="48.9" r="2.3"/>
<circle cx="473.76" cy="49.7" r="2.3"/>
<circle cx="478.6" cy="50" r="2.3"/>
<circle cx="483.44" cy="50.8" r="2.3"/>
<circle cx="488.28" cy="51" r="2.3"/>
<circle cx="493.11" cy="51.9" r="2.3"/>
<circle cx="497.95" cy="52.3" r="2.3"/>
<circle cx="502.79" cy="53.8" r="2.3"/>
<circle cx="507.63" cy="54.5" r="2.3"/>
<circle cx="512.47" cy="57.6" r="2.3"/>
<circle cx="517.31" cy="58" r="2.3"/>
<circle cx="522.15" cy="58.2" r="2.3"/>
<circle cx="526.99" cy="62.1" r="2.3"/>
<circle cx="531.83" cy="62.5" r="2.3"/>
<circle cx="536.66" cy="63.7" r="2.3"/>
<circle cx="541.5" cy="67.9" r="2.3"/>
<circle cx="546.34" cy="70.4" r="2.3"/>
<circle cx="551.18" cy="70.4" r="2.3"/>
<circle cx="556.02" cy="72.3" r="2.3"/>
<circle cx="560.86" cy="73.2" r="2.3"/>
<circle cx="565.7" cy="75.2" r="2.3"/>
<circle cx="570.54" cy="75.7" r="2.3"/>
<circle cx="575.38" cy="75.8" r="2.3"/>
<circle cx="580.22" cy="75.8" r="2.3"/>
<circle cx="585.06" cy="87.2" r="2.3"/>
<circle cx="589.89" cy="92.3" r="2.3"/>
<circle cx="594.73" cy="92.6" r="2.3"/>
<circle cx="599.57" cy="92.9" r="2.3"/>
<circle cx="604.41" cy="93.5" r="2.3"/>
<circle cx="609.25" cy="95.4" r="2.3"/>
<circle cx="614.09" cy="96.1" r="2.3"/>
<circle cx="618.93" cy="98" r="2.3"/>
<circle cx="628.61" cy="101" r="2.3"/>
<circle cx="633.45" cy="102.3" r="2.3"/>
<circle cx="638.28" cy="102.9" r="2.3"/>
<circle cx="643.12" cy="104.3" r="2.3"/>
<circle cx="647.96" cy="108" r="2.3"/>
<circle cx="652.8" cy="108.9" r="2.3"/>
<circle cx="657.64" cy="110.8" r="2.3"/>
<circle cx="662.48" cy="117.8" r="2.3"/>
<circle cx="667.32" cy="120" r="2.3"/>
<circle cx="672.16" cy="122.9" r="2.3"/>
</g>
<circle cx="425.37" cy="41.9" r="4.6" fill="#2b3990" stroke="#222" stroke-width="0.6"/>
<circle cx="464.08" cy="47.3" r="4.6" fill="#27aae1" stroke="#222" stroke-width="0.6"/>
<circle cx="623.77" cy="99.8" r="4.6" fill="#ed1c24" stroke="#222" stroke-width="0.6"/>
<circle cx="677" cy="125.4" r="4.6" fill="#9e1f63" stroke="#222" stroke-width="0.6"/>
<line x1="361.2" y1="0" x2="361.2" y2="143.4" stroke="#9a9a9a" stroke-width="1.1"/>
<line x1="360.7" y1="143.4" x2="685" y2="143.4" stroke="#9a9a9a" stroke-width="1.1"/>
<text x="359.3" y="158.7" font-size="9.8" text-anchor="end" textLength="51.9" lengthAdjust="spacingAndGlyphs" fill="#2a2a2a">Bedaquiline</text>
<text x="359.3" y="166.89" font-size="9.8" text-anchor="end" textLength="52.4" lengthAdjust="spacingAndGlyphs" fill="#2a2a2a">Clofazimine</text>
<text x="359.3" y="175.08" font-size="9.8" text-anchor="end" textLength="47" lengthAdjust="spacingAndGlyphs" fill="#2a2a2a">Delamanid</text>
<text x="359.3" y="183.27" font-size="9.8" text-anchor="end" textLength="50.7" lengthAdjust="spacingAndGlyphs" fill="#2a2a2a">Ethambutol</text>
<text x="359.3" y="191.46" font-size="9.8" text-anchor="end" textLength="38.3" lengthAdjust="spacingAndGlyphs" fill="#2a2a2a">Isoniazid</text>
<text x="359.3" y="199.65" font-size="9.8" text-anchor="end" textLength="39" lengthAdjust="spacingAndGlyphs" fill="#2a2a2a">Linezolid</text>
<text x="359.3" y="207.84" font-size="9.8" text-anchor="end" textLength="55.2" lengthAdjust="spacingAndGlyphs" fill="#2a2a2a">Moxifloxacin</text>
<text x="359.3" y="216.03" font-size="9.8" text-anchor="end" textLength="49.9" lengthAdjust="spacingAndGlyphs" fill="#2a2a2a">Pretomanid</text>
<text x="359.3" y="224.22" font-size="9.8" text-anchor="end" textLength="45.7" lengthAdjust="spacingAndGlyphs" fill="#2a2a2a">Rifampicin</text>
<text x="359.3" y="232.41" font-size="9.8" text-anchor="end" textLength="49.4" lengthAdjust="spacingAndGlyphs" fill="#2a2a2a">Rifapentine</text>
<text x="359.3" y="240.6" font-size="9.8" text-anchor="end" textLength="28.8" lengthAdjust="spacingAndGlyphs" fill="#2a2a2a">SQ109</text>
<text x="359.3" y="248.79" font-size="9.8" text-anchor="end" textLength="40.8" lengthAdjust="spacingAndGlyphs" fill="#2a2a2a">Sutezolid</text>
<text x="359.3" y="256.98" font-size="9.8" text-anchor="end" textLength="58.1" lengthAdjust="spacingAndGlyphs" fill="#2a2a2a">Pyrazinamide</text>
<g stroke="#474747" stroke-width="0.8">
<line x1="367.3" y1="155.4" x2="367.3" y2="253.68"/>
<line x1="372.14" y1="155.4" x2="372.14" y2="253.68"/>
<line x1="376.98" y1="155.4" x2="376.98" y2="253.68"/>
<line x1="381.82" y1="155.4" x2="381.82" y2="253.68"/>
<line x1="386.66" y1="155.4" x2="386.66" y2="253.68"/>
<line x1="391.5" y1="155.4" x2="391.5" y2="253.68"/>
<line x1="396.33" y1="155.4" x2="396.33" y2="253.68"/>
<line x1="401.17" y1="155.4" x2="401.17" y2="253.68"/>
<line x1="406.01" y1="155.4" x2="406.01" y2="253.68"/>
<line x1="410.85" y1="155.4" x2="410.85" y2="253.68"/>
<line x1="415.69" y1="155.4" x2="415.69" y2="253.68"/>
<line x1="420.53" y1="155.4" x2="420.53" y2="253.68"/>
<line x1="425.37" y1="155.4" x2="425.37" y2="253.68"/>
<line x1="430.21" y1="155.4" x2="430.21" y2="253.68"/>
<line x1="435.05" y1="155.4" x2="435.05" y2="253.68"/>
<line x1="439.88" y1="155.4" x2="439.88" y2="253.68"/>
<line x1="444.72" y1="155.4" x2="444.72" y2="253.68"/>
<line x1="449.56" y1="155.4" x2="449.56" y2="253.68"/>
<line x1="454.4" y1="155.4" x2="454.4" y2="253.68"/>
<line x1="459.24" y1="155.4" x2="459.24" y2="253.68"/>
<line x1="464.08" y1="155.4" x2="464.08" y2="253.68"/>
<line x1="468.92" y1="155.4" x2="468.92" y2="253.68"/>
<line x1="473.76" y1="155.4" x2="473.76" y2="253.68"/>
<line x1="478.6" y1="155.4" x2="478.6" y2="253.68"/>
<line x1="483.44" y1="155.4" x2="483.44" y2="253.68"/>
<line x1="488.28" y1="155.4" x2="488.28" y2="253.68"/>
<line x1="493.11" y1="155.4" x2="493.11" y2="253.68"/>
<line x1="497.95" y1="155.4" x2="497.95" y2="253.68"/>
<line x1="502.79" y1="155.4" x2="502.79" y2="253.68"/>
<line x1="507.63" y1="155.4" x2="507.63" y2="253.68"/>
<line x1="512.47" y1="155.4" x2="512.47" y2="253.68"/>
<line x1="517.31" y1="155.4" x2="517.31" y2="253.68"/>
<line x1="522.15" y1="155.4" x2="522.15" y2="253.68"/>
<line x1="526.99" y1="155.4" x2="526.99" y2="253.68"/>
<line x1="531.83" y1="155.4" x2="531.83" y2="253.68"/>
<line x1="536.66" y1="155.4" x2="536.66" y2="253.68"/>
<line x1="541.5" y1="155.4" x2="541.5" y2="253.68"/>
<line x1="546.34" y1="155.4" x2="546.34" y2="253.68"/>
<line x1="551.18" y1="155.4" x2="551.18" y2="253.68"/>
<line x1="556.02" y1="155.4" x2="556.02" y2="253.68"/>
<line x1="560.86" y1="155.4" x2="560.86" y2="253.68"/>
<line x1="565.7" y1="155.4" x2="565.7" y2="253.68"/>
<line x1="570.54" y1="155.4" x2="570.54" y2="253.68"/>
<line x1="575.38" y1="155.4" x2="575.38" y2="253.68"/>
<line x1="580.22" y1="155.4" x2="580.22" y2="253.68"/>
<line x1="585.06" y1="155.4" x2="585.06" y2="253.68"/>
<line x1="589.89" y1="155.4" x2="589.89" y2="253.68"/>
<line x1="594.73" y1="155.4" x2="594.73" y2="253.68"/>
<line x1="599.57" y1="155.4" x2="599.57" y2="253.68"/>
<line x1="604.41" y1="155.4" x2="604.41" y2="253.68"/>
<line x1="609.25" y1="155.4" x2="609.25" y2="253.68"/>
<line x1="614.09" y1="155.4" x2="614.09" y2="253.68"/>
<line x1="618.93" y1="155.4" x2="618.93" y2="253.68"/>
<line x1="623.77" y1="155.4" x2="623.77" y2="253.68"/>
<line x1="628.61" y1="155.4" x2="628.61" y2="253.68"/>
<line x1="633.45" y1="155.4" x2="633.45" y2="253.68"/>
<line x1="638.28" y1="155.4" x2="638.28" y2="253.68"/>
<line x1="643.12" y1="155.4" x2="643.12" y2="253.68"/>
<line x1="647.96" y1="155.4" x2="647.96" y2="253.68"/>
<line x1="652.8" y1="155.4" x2="652.8" y2="253.68"/>
<line x1="657.64" y1="155.4" x2="657.64" y2="253.68"/>
<line x1="662.48" y1="155.4" x2="662.48" y2="253.68"/>
<line x1="667.32" y1="155.4" x2="667.32" y2="253.68"/>
<line x1="672.16" y1="155.4" x2="672.16" y2="253.68"/>
<line x1="677" y1="155.4" x2="677" y2="253.68"/>
</g>
<g stroke="#474747" stroke-width="0.65" fill="#fff">
<circle cx="367.3" cy="155.4" r="2.15"/>
<circle cx="372.14" cy="155.4" r="2.15"/>
<circle cx="376.98" cy="155.4" r="2.15"/>
<circle cx="381.82" cy="155.4" r="2.15"/>
<circle cx="386.66" cy="155.4" r="2.15"/>
<circle cx="391.5" cy="155.4" r="2.15"/>
<circle cx="396.33" cy="155.4" r="2.15"/>
<circle cx="401.17" cy="155.4" r="2.15"/>
<circle cx="406.01" cy="155.4" r="2.15"/>
<circle cx="410.85" cy="155.4" r="2.15"/>
<circle cx="415.69" cy="155.4" r="2.15"/>
<circle cx="420.53" cy="155.4" r="2.15"/>
<circle cx="425.37" cy="155.4" r="2.15"/>
<circle cx="430.21" cy="155.4" r="2.15"/>
<circle cx="435.05" cy="155.4" r="2.15"/>
<circle cx="439.88" cy="155.4" r="2.15"/>
<circle cx="444.72" cy="155.4" r="2.15"/>
<circle cx="449.56" cy="155.4" r="2.15"/>
<circle cx="454.4" cy="155.4" r="2.15"/>
<circle cx="459.24" cy="155.4" r="2.15"/>
<circle cx="464.08" cy="155.4" r="2.15"/>
<circle cx="468.92" cy="155.4" r="2.15"/>
<circle cx="473.76" cy="155.4" r="2.15"/>
<circle cx="483.44" cy="155.4" r="2.15"/>
<circle cx="488.28" cy="155.4" r="2.15"/>
<circle cx="493.11" cy="155.4" r="2.15"/>
<circle cx="497.95" cy="155.4" r="2.15"/>
<circle cx="502.79" cy="155.4" r="2.15"/>
<circle cx="517.31" cy="155.4" r="2.15"/>
<circle cx="526.99" cy="155.4" r="2.15"/>
<circle cx="531.83" cy="155.4" r="2.15"/>
<circle cx="541.5" cy="155.4" r="2.15"/>
<circle cx="546.34" cy="155.4" r="2.15"/>
<circle cx="551.18" cy="155.4" r="2.15"/>
<circle cx="560.86" cy="155.4" r="2.15"/>
<circle cx="570.54" cy="155.4" r="2.15"/>
<circle cx="575.38" cy="155.4" r="2.15"/>
<circle cx="580.22" cy="155.4" r="2.15"/>
<circle cx="604.41" cy="155.4" r="2.15"/>
<circle cx="614.09" cy="155.4" r="2.15"/>
<circle cx="367.3" cy="163.59" r="2.15"/>
<circle cx="372.14" cy="163.59" r="2.15"/>
<circle cx="376.98" cy="163.59" r="2.15"/>
<circle cx="381.82" cy="163.59" r="2.15"/>
<circle cx="386.66" cy="163.59" r="2.15"/>
<circle cx="391.5" cy="163.59" r="2.15"/>
<circle cx="396.33" cy="163.59" r="2.15"/>
<circle cx="401.17" cy="163.59" r="2.15"/>
<circle cx="406.01" cy="163.59" r="2.15"/>
<circle cx="410.85" cy="163.59" r="2.15"/>
<circle cx="415.69" cy="163.59" r="2.15"/>
<circle cx="420.53" cy="163.59" r="2.15"/>
<circle cx="425.37" cy="163.59" r="2.15"/>
<circle cx="430.21" cy="163.59" r="2.15"/>
<circle cx="435.05" cy="163.59" r="2.15"/>
<circle cx="439.88" cy="163.59" r="2.15"/>
<circle cx="444.72" cy="163.59" r="2.15"/>
<circle cx="449.56" cy="163.59" r="2.15"/>
<circle cx="454.4" cy="163.59" r="2.15"/>
<circle cx="459.24" cy="163.59" r="2.15"/>
<circle cx="464.08" cy="163.59" r="2.15"/>
<circle cx="468.92" cy="163.59" r="2.15"/>
<circle cx="473.76" cy="163.59" r="2.15"/>
<circle cx="478.6" cy="163.59" r="2.15"/>
<circle cx="483.44" cy="163.59" r="2.15"/>
<circle cx="488.28" cy="163.59" r="2.15"/>
<circle cx="493.11" cy="163.59" r="2.15"/>
<circle cx="497.95" cy="163.59" r="2.15"/>
<circle cx="502.79" cy="163.59" r="2.15"/>
<circle cx="507.63" cy="163.59" r="2.15"/>
<circle cx="512.47" cy="163.59" r="2.15"/>
<circle cx="522.15" cy="163.59" r="2.15"/>
<circle cx="536.66" cy="163.59" r="2.15"/>
<circle cx="541.5" cy="163.59" r="2.15"/>
<circle cx="546.34" cy="163.59" r="2.15"/>
<circle cx="551.18" cy="163.59" r="2.15"/>
<circle cx="556.02" cy="163.59" r="2.15"/>
<circle cx="560.86" cy="163.59" r="2.15"/>
<circle cx="565.7" cy="163.59" r="2.15"/>
<circle cx="575.38" cy="163.59" r="2.15"/>
<circle cx="580.22" cy="163.59" r="2.15"/>
<circle cx="585.06" cy="163.59" r="2.15"/>
<circle cx="594.73" cy="163.59" r="2.15"/>
<circle cx="604.41" cy="163.59" r="2.15"/>
<circle cx="614.09" cy="163.59" r="2.15"/>
<circle cx="623.77" cy="163.59" r="2.15"/>
<circle cx="643.12" cy="163.59" r="2.15"/>
<circle cx="647.96" cy="163.59" r="2.15"/>
<circle cx="652.8" cy="163.59" r="2.15"/>
<circle cx="662.48" cy="163.59" r="2.15"/>
<circle cx="667.32" cy="163.59" r="2.15"/>
<circle cx="672.16" cy="163.59" r="2.15"/>
<circle cx="677" cy="163.59" r="2.15"/>
<circle cx="367.3" cy="171.78" r="2.15"/>
<circle cx="372.14" cy="171.78" r="2.15"/>
<circle cx="376.98" cy="171.78" r="2.15"/>
<circle cx="381.82" cy="171.78" r="2.15"/>
<circle cx="386.66" cy="171.78" r="2.15"/>
<circle cx="391.5" cy="171.78" r="2.15"/>
<circle cx="396.33" cy="171.78" r="2.15"/>
<circle cx="401.17" cy="171.78" r="2.15"/>
<circle cx="406.01" cy="171.78" r="2.15"/>
<circle cx="410.85" cy="171.78" r="2.15"/>
<circle cx="415.69" cy="171.78" r="2.15"/>
<circle cx="420.53" cy="171.78" r="2.15"/>
<circle cx="425.37" cy="171.78" r="2.15"/>
<circle cx="430.21" cy="171.78" r="2.15"/>
<circle cx="435.05" cy="171.78" r="2.15"/>
<circle cx="439.88" cy="171.78" r="2.15"/>
<circle cx="444.72" cy="171.78" r="2.15"/>
<circle cx="449.56" cy="171.78" r="2.15"/>
<circle cx="454.4" cy="171.78" r="2.15"/>
<circle cx="459.24" cy="171.78" r="2.15"/>
<circle cx="464.08" cy="171.78" r="2.15"/>
<circle cx="468.92" cy="171.78" r="2.15"/>
<circle cx="473.76" cy="171.78" r="2.15"/>
<circle cx="478.6" cy="171.78" r="2.15"/>
<circle cx="483.44" cy="171.78" r="2.15"/>
<circle cx="488.28" cy="171.78" r="2.15"/>
<circle cx="493.11" cy="171.78" r="2.15"/>
<circle cx="497.95" cy="171.78" r="2.15"/>
<circle cx="502.79" cy="171.78" r="2.15"/>
<circle cx="507.63" cy="171.78" r="2.15"/>
<circle cx="512.47" cy="171.78" r="2.15"/>
<circle cx="517.31" cy="171.78" r="2.15"/>
<circle cx="522.15" cy="171.78" r="2.15"/>
<circle cx="526.99" cy="171.78" r="2.15"/>
<circle cx="531.83" cy="171.78" r="2.15"/>
<circle cx="536.66" cy="171.78" r="2.15"/>
<circle cx="546.34" cy="171.78" r="2.15"/>
<circle cx="551.18" cy="171.78" r="2.15"/>
<circle cx="556.02" cy="171.78" r="2.15"/>
<circle cx="560.86" cy="171.78" r="2.15"/>
<circle cx="565.7" cy="171.78" r="2.15"/>
<circle cx="570.54" cy="171.78" r="2.15"/>
<circle cx="575.38" cy="171.78" r="2.15"/>
<circle cx="580.22" cy="171.78" r="2.15"/>
<circle cx="585.06" cy="171.78" r="2.15"/>
<circle cx="589.89" cy="171.78" r="2.15"/>
<circle cx="594.73" cy="171.78" r="2.15"/>
<circle cx="599.57" cy="171.78" r="2.15"/>
<circle cx="604.41" cy="171.78" r="2.15"/>
<circle cx="614.09" cy="171.78" r="2.15"/>
<circle cx="618.93" cy="171.78" r="2.15"/>
<circle cx="623.77" cy="171.78" r="2.15"/>
<circle cx="628.61" cy="171.78" r="2.15"/>
<circle cx="633.45" cy="171.78" r="2.15"/>
<circle cx="638.28" cy="171.78" r="2.15"/>
<circle cx="643.12" cy="171.78" r="2.15"/>
<circle cx="647.96" cy="171.78" r="2.15"/>
<circle cx="652.8" cy="171.78" r="2.15"/>
<circle cx="657.64" cy="171.78" r="2.15"/>
<circle cx="662.48" cy="171.78" r="2.15"/>
<circle cx="667.32" cy="171.78" r="2.15"/>
<circle cx="672.16" cy="171.78" r="2.15"/>
<circle cx="677" cy="171.78" r="2.15"/>
<circle cx="367.3" cy="179.97" r="2.15"/>
<circle cx="372.14" cy="179.97" r="2.15"/>
<circle cx="376.98" cy="179.97" r="2.15"/>
<circle cx="381.82" cy="179.97" r="2.15"/>
<circle cx="386.66" cy="179.97" r="2.15"/>
<circle cx="391.5" cy="179.97" r="2.15"/>
<circle cx="396.33" cy="179.97" r="2.15"/>
<circle cx="406.01" cy="179.97" r="2.15"/>
<circle cx="410.85" cy="179.97" r="2.15"/>
<circle cx="415.69" cy="179.97" r="2.15"/>
<circle cx="420.53" cy="179.97" r="2.15"/>
<circle cx="425.37" cy="179.97" r="2.15"/>
<circle cx="435.05" cy="179.97" r="2.15"/>
<circle cx="444.72" cy="179.97" r="2.15"/>
<circle cx="454.4" cy="179.97" r="2.15"/>
<circle cx="459.24" cy="179.97" r="2.15"/>
<circle cx="473.76" cy="179.97" r="2.15"/>
<circle cx="478.6" cy="179.97" r="2.15"/>
<circle cx="483.44" cy="179.97" r="2.15"/>
<circle cx="493.11" cy="179.97" r="2.15"/>
<circle cx="497.95" cy="179.97" r="2.15"/>
<circle cx="502.79" cy="179.97" r="2.15"/>
<circle cx="507.63" cy="179.97" r="2.15"/>
<circle cx="512.47" cy="179.97" r="2.15"/>
<circle cx="522.15" cy="179.97" r="2.15"/>
<circle cx="531.83" cy="179.97" r="2.15"/>
<circle cx="536.66" cy="179.97" r="2.15"/>
<circle cx="541.5" cy="179.97" r="2.15"/>
<circle cx="546.34" cy="179.97" r="2.15"/>
<circle cx="551.18" cy="179.97" r="2.15"/>
<circle cx="556.02" cy="179.97" r="2.15"/>
<circle cx="560.86" cy="179.97" r="2.15"/>
<circle cx="565.7" cy="179.97" r="2.15"/>
<circle cx="570.54" cy="179.97" r="2.15"/>
<circle cx="575.38" cy="179.97" r="2.15"/>
<circle cx="580.22" cy="179.97" r="2.15"/>
<circle cx="585.06" cy="179.97" r="2.15"/>
<circle cx="589.89" cy="179.97" r="2.15"/>
<circle cx="594.73" cy="179.97" r="2.15"/>
<circle cx="599.57" cy="179.97" r="2.15"/>
<circle cx="604.41" cy="179.97" r="2.15"/>
<circle cx="609.25" cy="179.97" r="2.15"/>
<circle cx="614.09" cy="179.97" r="2.15"/>
<circle cx="618.93" cy="179.97" r="2.15"/>
<circle cx="623.77" cy="179.97" r="2.15"/>
<circle cx="628.61" cy="179.97" r="2.15"/>
<circle cx="633.45" cy="179.97" r="2.15"/>
<circle cx="643.12" cy="179.97" r="2.15"/>
<circle cx="647.96" cy="179.97" r="2.15"/>
<circle cx="652.8" cy="179.97" r="2.15"/>
<circle cx="657.64" cy="179.97" r="2.15"/>
<circle cx="662.48" cy="179.97" r="2.15"/>
<circle cx="667.32" cy="179.97" r="2.15"/>
<circle cx="672.16" cy="179.97" r="2.15"/>
<circle cx="677" cy="179.97" r="2.15"/>
<circle cx="367.3" cy="188.16" r="2.15"/>
<circle cx="372.14" cy="188.16" r="2.15"/>
<circle cx="376.98" cy="188.16" r="2.15"/>
<circle cx="381.82" cy="188.16" r="2.15"/>
<circle cx="386.66" cy="188.16" r="2.15"/>
<circle cx="391.5" cy="188.16" r="2.15"/>
<circle cx="401.17" cy="188.16" r="2.15"/>
<circle cx="415.69" cy="188.16" r="2.15"/>
<circle cx="430.21" cy="188.16" r="2.15"/>
<circle cx="435.05" cy="188.16" r="2.15"/>
<circle cx="444.72" cy="188.16" r="2.15"/>
<circle cx="468.92" cy="188.16" r="2.15"/>
<circle cx="478.6" cy="188.16" r="2.15"/>
<circle cx="493.11" cy="188.16" r="2.15"/>
<circle cx="507.63" cy="188.16" r="2.15"/>
<circle cx="512.47" cy="188.16" r="2.15"/>
<circle cx="522.15" cy="188.16" r="2.15"/>
<circle cx="536.66" cy="188.16" r="2.15"/>
<circle cx="541.5" cy="188.16" r="2.15"/>
<circle cx="546.34" cy="188.16" r="2.15"/>
<circle cx="551.18" cy="188.16" r="2.15"/>
<circle cx="556.02" cy="188.16" r="2.15"/>
<circle cx="565.7" cy="188.16" r="2.15"/>
<circle cx="570.54" cy="188.16" r="2.15"/>
<circle cx="580.22" cy="188.16" r="2.15"/>
<circle cx="585.06" cy="188.16" r="2.15"/>
<circle cx="589.89" cy="188.16" r="2.15"/>
<circle cx="594.73" cy="188.16" r="2.15"/>
<circle cx="599.57" cy="188.16" r="2.15"/>
<circle cx="604.41" cy="188.16" r="2.15"/>
<circle cx="609.25" cy="188.16" r="2.15"/>
<circle cx="614.09" cy="188.16" r="2.15"/>
<circle cx="618.93" cy="188.16" r="2.15"/>
<circle cx="623.77" cy="188.16" r="2.15"/>
<circle cx="628.61" cy="188.16" r="2.15"/>
<circle cx="633.45" cy="188.16" r="2.15"/>
<circle cx="638.28" cy="188.16" r="2.15"/>
<circle cx="643.12" cy="188.16" r="2.15"/>
<circle cx="647.96" cy="188.16" r="2.15"/>
<circle cx="652.8" cy="188.16" r="2.15"/>
<circle cx="657.64" cy="188.16" r="2.15"/>
<circle cx="662.48" cy="188.16" r="2.15"/>
<circle cx="667.32" cy="188.16" r="2.15"/>
<circle cx="672.16" cy="188.16" r="2.15"/>
<circle cx="677" cy="188.16" r="2.15"/>
<circle cx="367.3" cy="196.35" r="2.15"/>
<circle cx="376.98" cy="196.35" r="2.15"/>
<circle cx="381.82" cy="196.35" r="2.15"/>
<circle cx="386.66" cy="196.35" r="2.15"/>
<circle cx="391.5" cy="196.35" r="2.15"/>
<circle cx="396.33" cy="196.35" r="2.15"/>
<circle cx="401.17" cy="196.35" r="2.15"/>
<circle cx="406.01" cy="196.35" r="2.15"/>
<circle cx="410.85" cy="196.35" r="2.15"/>
<circle cx="415.69" cy="196.35" r="2.15"/>
<circle cx="420.53" cy="196.35" r="2.15"/>
<circle cx="425.37" cy="196.35" r="2.15"/>
<circle cx="430.21" cy="196.35" r="2.15"/>
<circle cx="435.05" cy="196.35" r="2.15"/>
<circle cx="439.88" cy="196.35" r="2.15"/>
<circle cx="444.72" cy="196.35" r="2.15"/>
<circle cx="449.56" cy="196.35" r="2.15"/>
<circle cx="454.4" cy="196.35" r="2.15"/>
<circle cx="464.08" cy="196.35" r="2.15"/>
<circle cx="468.92" cy="196.35" r="2.15"/>
<circle cx="473.76" cy="196.35" r="2.15"/>
<circle cx="478.6" cy="196.35" r="2.15"/>
<circle cx="483.44" cy="196.35" r="2.15"/>
<circle cx="488.28" cy="196.35" r="2.15"/>
<circle cx="493.11" cy="196.35" r="2.15"/>
<circle cx="497.95" cy="196.35" r="2.15"/>
<circle cx="502.79" cy="196.35" r="2.15"/>
<circle cx="512.47" cy="196.35" r="2.15"/>
<circle cx="517.31" cy="196.35" r="2.15"/>
<circle cx="526.99" cy="196.35" r="2.15"/>
<circle cx="531.83" cy="196.35" r="2.15"/>
<circle cx="536.66" cy="196.35" r="2.15"/>
<circle cx="541.5" cy="196.35" r="2.15"/>
<circle cx="546.34" cy="196.35" r="2.15"/>
<circle cx="551.18" cy="196.35" r="2.15"/>
<circle cx="556.02" cy="196.35" r="2.15"/>
<circle cx="560.86" cy="196.35" r="2.15"/>
<circle cx="565.7" cy="196.35" r="2.15"/>
<circle cx="570.54" cy="196.35" r="2.15"/>
<circle cx="575.38" cy="196.35" r="2.15"/>
<circle cx="580.22" cy="196.35" r="2.15"/>
<circle cx="585.06" cy="196.35" r="2.15"/>
<circle cx="589.89" cy="196.35" r="2.15"/>
<circle cx="594.73" cy="196.35" r="2.15"/>
<circle cx="599.57" cy="196.35" r="2.15"/>
<circle cx="604.41" cy="196.35" r="2.15"/>
<circle cx="609.25" cy="196.35" r="2.15"/>
<circle cx="614.09" cy="196.35" r="2.15"/>
<circle cx="618.93" cy="196.35" r="2.15"/>
<circle cx="628.61" cy="196.35" r="2.15"/>
<circle cx="633.45" cy="196.35" r="2.15"/>
<circle cx="638.28" cy="196.35" r="2.15"/>
<circle cx="647.96" cy="196.35" r="2.15"/>
<circle cx="652.8" cy="196.35" r="2.15"/>
<circle cx="657.64" cy="196.35" r="2.15"/>
<circle cx="662.48" cy="196.35" r="2.15"/>
<circle cx="667.32" cy="196.35" r="2.15"/>
<circle cx="672.16" cy="196.35" r="2.15"/>
<circle cx="677" cy="196.35" r="2.15"/>
<circle cx="367.3" cy="204.54" r="2.15"/>
<circle cx="372.14" cy="204.54" r="2.15"/>
<circle cx="376.98" cy="204.54" r="2.15"/>
<circle cx="386.66" cy="204.54" r="2.15"/>
<circle cx="391.5" cy="204.54" r="2.15"/>
<circle cx="401.17" cy="204.54" r="2.15"/>
<circle cx="406.01" cy="204.54" r="2.15"/>
<circle cx="410.85" cy="204.54" r="2.15"/>
<circle cx="415.69" cy="204.54" r="2.15"/>
<circle cx="420.53" cy="204.54" r="2.15"/>
<circle cx="425.37" cy="204.54" r="2.15"/>
<circle cx="430.21" cy="204.54" r="2.15"/>
<circle cx="435.05" cy="204.54" r="2.15"/>
<circle cx="439.88" cy="204.54" r="2.15"/>
<circle cx="449.56" cy="204.54" r="2.15"/>
<circle cx="454.4" cy="204.54" r="2.15"/>
<circle cx="459.24" cy="204.54" r="2.15"/>
<circle cx="464.08" cy="204.54" r="2.15"/>
<circle cx="478.6" cy="204.54" r="2.15"/>
<circle cx="483.44" cy="204.54" r="2.15"/>
<circle cx="488.28" cy="204.54" r="2.15"/>
<circle cx="507.63" cy="204.54" r="2.15"/>
<circle cx="512.47" cy="204.54" r="2.15"/>
<circle cx="517.31" cy="204.54" r="2.15"/>
<circle cx="522.15" cy="204.54" r="2.15"/>
<circle cx="526.99" cy="204.54" r="2.15"/>
<circle cx="531.83" cy="204.54" r="2.15"/>
<circle cx="536.66" cy="204.54" r="2.15"/>
<circle cx="541.5" cy="204.54" r="2.15"/>
<circle cx="546.34" cy="204.54" r="2.15"/>
<circle cx="560.86" cy="204.54" r="2.15"/>
<circle cx="565.7" cy="204.54" r="2.15"/>
<circle cx="570.54" cy="204.54" r="2.15"/>
<circle cx="575.38" cy="204.54" r="2.15"/>
<circle cx="585.06" cy="204.54" r="2.15"/>
<circle cx="589.89" cy="204.54" r="2.15"/>
<circle cx="599.57" cy="204.54" r="2.15"/>
<circle cx="609.25" cy="204.54" r="2.15"/>
<circle cx="614.09" cy="204.54" r="2.15"/>
<circle cx="618.93" cy="204.54" r="2.15"/>
<circle cx="623.77" cy="204.54" r="2.15"/>
<circle cx="628.61" cy="204.54" r="2.15"/>
<circle cx="633.45" cy="204.54" r="2.15"/>
<circle cx="638.28" cy="204.54" r="2.15"/>
<circle cx="643.12" cy="204.54" r="2.15"/>
<circle cx="647.96" cy="204.54" r="2.15"/>
<circle cx="652.8" cy="204.54" r="2.15"/>
<circle cx="657.64" cy="204.54" r="2.15"/>
<circle cx="662.48" cy="204.54" r="2.15"/>
<circle cx="677" cy="204.54" r="2.15"/>
<circle cx="367.3" cy="212.73" r="2.15"/>
<circle cx="372.14" cy="212.73" r="2.15"/>
<circle cx="376.98" cy="212.73" r="2.15"/>
<circle cx="381.82" cy="212.73" r="2.15"/>
<circle cx="386.66" cy="212.73" r="2.15"/>
<circle cx="391.5" cy="212.73" r="2.15"/>
<circle cx="396.33" cy="212.73" r="2.15"/>
<circle cx="401.17" cy="212.73" r="2.15"/>
<circle cx="406.01" cy="212.73" r="2.15"/>
<circle cx="410.85" cy="212.73" r="2.15"/>
<circle cx="415.69" cy="212.73" r="2.15"/>
<circle cx="420.53" cy="212.73" r="2.15"/>
<circle cx="425.37" cy="212.73" r="2.15"/>
<circle cx="430.21" cy="212.73" r="2.15"/>
<circle cx="435.05" cy="212.73" r="2.15"/>
<circle cx="439.88" cy="212.73" r="2.15"/>
<circle cx="444.72" cy="212.73" r="2.15"/>
<circle cx="449.56" cy="212.73" r="2.15"/>
<circle cx="454.4" cy="212.73" r="2.15"/>
<circle cx="459.24" cy="212.73" r="2.15"/>
<circle cx="464.08" cy="212.73" r="2.15"/>
<circle cx="468.92" cy="212.73" r="2.15"/>
<circle cx="473.76" cy="212.73" r="2.15"/>
<circle cx="478.6" cy="212.73" r="2.15"/>
<circle cx="483.44" cy="212.73" r="2.15"/>
<circle cx="488.28" cy="212.73" r="2.15"/>
<circle cx="493.11" cy="212.73" r="2.15"/>
<circle cx="497.95" cy="212.73" r="2.15"/>
<circle cx="502.79" cy="212.73" r="2.15"/>
<circle cx="507.63" cy="212.73" r="2.15"/>
<circle cx="512.47" cy="212.73" r="2.15"/>
<circle cx="517.31" cy="212.73" r="2.15"/>
<circle cx="522.15" cy="212.73" r="2.15"/>
<circle cx="526.99" cy="212.73" r="2.15"/>
<circle cx="531.83" cy="212.73" r="2.15"/>
<circle cx="536.66" cy="212.73" r="2.15"/>
<circle cx="541.5" cy="212.73" r="2.15"/>
<circle cx="556.02" cy="212.73" r="2.15"/>
<circle cx="565.7" cy="212.73" r="2.15"/>
<circle cx="570.54" cy="212.73" r="2.15"/>
<circle cx="585.06" cy="212.73" r="2.15"/>
<circle cx="589.89" cy="212.73" r="2.15"/>
<circle cx="594.73" cy="212.73" r="2.15"/>
<circle cx="599.57" cy="212.73" r="2.15"/>
<circle cx="609.25" cy="212.73" r="2.15"/>
<circle cx="618.93" cy="212.73" r="2.15"/>
<circle cx="628.61" cy="212.73" r="2.15"/>
<circle cx="638.28" cy="212.73" r="2.15"/>
<circle cx="367.3" cy="220.92" r="2.15"/>
<circle cx="372.14" cy="220.92" r="2.15"/>
<circle cx="376.98" cy="220.92" r="2.15"/>
<circle cx="381.82" cy="220.92" r="2.15"/>
<circle cx="391.5" cy="220.92" r="2.15"/>
<circle cx="396.33" cy="220.92" r="2.15"/>
<circle cx="406.01" cy="220.92" r="2.15"/>
<circle cx="430.21" cy="220.92" r="2.15"/>
<circle cx="435.05" cy="220.92" r="2.15"/>
<circle cx="439.88" cy="220.92" r="2.15"/>
<circle cx="454.4" cy="220.92" r="2.15"/>
<circle cx="478.6" cy="220.92" r="2.15"/>
<circle cx="483.44" cy="220.92" r="2.15"/>
<circle cx="488.28" cy="220.92" r="2.15"/>
<circle cx="493.11" cy="220.92" r="2.15"/>
<circle cx="502.79" cy="220.92" r="2.15"/>
<circle cx="507.63" cy="220.92" r="2.15"/>
<circle cx="512.47" cy="220.92" r="2.15"/>
<circle cx="522.15" cy="220.92" r="2.15"/>
<circle cx="526.99" cy="220.92" r="2.15"/>
<circle cx="536.66" cy="220.92" r="2.15"/>
<circle cx="541.5" cy="220.92" r="2.15"/>
<circle cx="556.02" cy="220.92" r="2.15"/>
<circle cx="570.54" cy="220.92" r="2.15"/>
<circle cx="585.06" cy="220.92" r="2.15"/>
<circle cx="589.89" cy="220.92" r="2.15"/>
<circle cx="594.73" cy="220.92" r="2.15"/>
<circle cx="599.57" cy="220.92" r="2.15"/>
<circle cx="604.41" cy="220.92" r="2.15"/>
<circle cx="609.25" cy="220.92" r="2.15"/>
<circle cx="614.09" cy="220.92" r="2.15"/>
<circle cx="618.93" cy="220.92" r="2.15"/>
<circle cx="623.77" cy="220.92" r="2.15"/>
<circle cx="628.61" cy="220.92" r="2.15"/>
<circle cx="633.45" cy="220.92" r="2.15"/>
<circle cx="638.28" cy="220.92" r="2.15"/>
<circle cx="643.12" cy="220.92" r="2.15"/>
<circle cx="647.96" cy="220.92" r="2.15"/>
<circle cx="652.8" cy="220.92" r="2.15"/>
<circle cx="657.64" cy="220.92" r="2.15"/>
<circle cx="662.48" cy="220.92" r="2.15"/>
<circle cx="667.32" cy="220.92" r="2.15"/>
<circle cx="672.16" cy="220.92" r="2.15"/>
<circle cx="677" cy="220.92" r="2.15"/>
<circle cx="367.3" cy="229.11" r="2.15"/>
<circle cx="372.14" cy="229.11" r="2.15"/>
<circle cx="376.98" cy="229.11" r="2.15"/>
<circle cx="381.82" cy="229.11" r="2.15"/>
<circle cx="386.66" cy="229.11" r="2.15"/>
<circle cx="391.5" cy="229.11" r="2.15"/>
<circle cx="396.33" cy="229.11" r="2.15"/>
<circle cx="401.17" cy="229.11" r="2.15"/>
<circle cx="406.01" cy="229.11" r="2.15"/>
<circle cx="410.85" cy="229.11" r="2.15"/>
<circle cx="415.69" cy="229.11" r="2.15"/>
<circle cx="420.53" cy="229.11" r="2.15"/>
<circle cx="425.37" cy="229.11" r="2.15"/>
<circle cx="430.21" cy="229.11" r="2.15"/>
<circle cx="439.88" cy="229.11" r="2.15"/>
<circle cx="444.72" cy="229.11" r="2.15"/>
<circle cx="449.56" cy="229.11" r="2.15"/>
<circle cx="454.4" cy="229.11" r="2.15"/>
<circle cx="459.24" cy="229.11" r="2.15"/>
<circle cx="464.08" cy="229.11" r="2.15"/>
<circle cx="468.92" cy="229.11" r="2.15"/>
<circle cx="473.76" cy="229.11" r="2.15"/>
<circle cx="478.6" cy="229.11" r="2.15"/>
<circle cx="497.95" cy="229.11" r="2.15"/>
<circle cx="507.63" cy="229.11" r="2.15"/>
<circle cx="512.47" cy="229.11" r="2.15"/>
<circle cx="517.31" cy="229.11" r="2.15"/>
<circle cx="522.15" cy="229.11" r="2.15"/>
<circle cx="531.83" cy="229.11" r="2.15"/>
<circle cx="536.66" cy="229.11" r="2.15"/>
<circle cx="541.5" cy="229.11" r="2.15"/>
<circle cx="546.34" cy="229.11" r="2.15"/>
<circle cx="551.18" cy="229.11" r="2.15"/>
<circle cx="556.02" cy="229.11" r="2.15"/>
<circle cx="560.86" cy="229.11" r="2.15"/>
<circle cx="565.7" cy="229.11" r="2.15"/>
<circle cx="570.54" cy="229.11" r="2.15"/>
<circle cx="575.38" cy="229.11" r="2.15"/>
<circle cx="580.22" cy="229.11" r="2.15"/>
<circle cx="599.57" cy="229.11" r="2.15"/>
<circle cx="604.41" cy="229.11" r="2.15"/>
<circle cx="609.25" cy="229.11" r="2.15"/>
<circle cx="614.09" cy="229.11" r="2.15"/>
<circle cx="618.93" cy="229.11" r="2.15"/>
<circle cx="623.77" cy="229.11" r="2.15"/>
<circle cx="628.61" cy="229.11" r="2.15"/>
<circle cx="633.45" cy="229.11" r="2.15"/>
<circle cx="638.28" cy="229.11" r="2.15"/>
<circle cx="643.12" cy="229.11" r="2.15"/>
<circle cx="647.96" cy="229.11" r="2.15"/>
<circle cx="652.8" cy="229.11" r="2.15"/>
<circle cx="657.64" cy="229.11" r="2.15"/>
<circle cx="662.48" cy="229.11" r="2.15"/>
<circle cx="667.32" cy="229.11" r="2.15"/>
<circle cx="672.16" cy="229.11" r="2.15"/>
<circle cx="677" cy="229.11" r="2.15"/>
<circle cx="367.3" cy="237.3" r="2.15"/>
<circle cx="372.14" cy="237.3" r="2.15"/>
<circle cx="381.82" cy="237.3" r="2.15"/>
<circle cx="386.66" cy="237.3" r="2.15"/>
<circle cx="391.5" cy="237.3" r="2.15"/>
<circle cx="396.33" cy="237.3" r="2.15"/>
<circle cx="401.17" cy="237.3" r="2.15"/>
<circle cx="406.01" cy="237.3" r="2.15"/>
<circle cx="410.85" cy="237.3" r="2.15"/>
<circle cx="415.69" cy="237.3" r="2.15"/>
<circle cx="420.53" cy="237.3" r="2.15"/>
<circle cx="425.37" cy="237.3" r="2.15"/>
<circle cx="430.21" cy="237.3" r="2.15"/>
<circle cx="435.05" cy="237.3" r="2.15"/>
<circle cx="439.88" cy="237.3" r="2.15"/>
<circle cx="444.72" cy="237.3" r="2.15"/>
<circle cx="449.56" cy="237.3" r="2.15"/>
<circle cx="454.4" cy="237.3" r="2.15"/>
<circle cx="459.24" cy="237.3" r="2.15"/>
<circle cx="464.08" cy="237.3" r="2.15"/>
<circle cx="468.92" cy="237.3" r="2.15"/>
<circle cx="473.76" cy="237.3" r="2.15"/>
<circle cx="478.6" cy="237.3" r="2.15"/>
<circle cx="483.44" cy="237.3" r="2.15"/>
<circle cx="488.28" cy="237.3" r="2.15"/>
<circle cx="493.11" cy="237.3" r="2.15"/>
<circle cx="497.95" cy="237.3" r="2.15"/>
<circle cx="502.79" cy="237.3" r="2.15"/>
<circle cx="507.63" cy="237.3" r="2.15"/>
<circle cx="512.47" cy="237.3" r="2.15"/>
<circle cx="517.31" cy="237.3" r="2.15"/>
<circle cx="522.15" cy="237.3" r="2.15"/>
<circle cx="526.99" cy="237.3" r="2.15"/>
<circle cx="531.83" cy="237.3" r="2.15"/>
<circle cx="536.66" cy="237.3" r="2.15"/>
<circle cx="541.5" cy="237.3" r="2.15"/>
<circle cx="546.34" cy="237.3" r="2.15"/>
<circle cx="551.18" cy="237.3" r="2.15"/>
<circle cx="556.02" cy="237.3" r="2.15"/>
<circle cx="560.86" cy="237.3" r="2.15"/>
<circle cx="565.7" cy="237.3" r="2.15"/>
<circle cx="570.54" cy="237.3" r="2.15"/>
<circle cx="575.38" cy="237.3" r="2.15"/>
<circle cx="580.22" cy="237.3" r="2.15"/>
<circle cx="585.06" cy="237.3" r="2.15"/>
<circle cx="589.89" cy="237.3" r="2.15"/>
<circle cx="594.73" cy="237.3" r="2.15"/>
<circle cx="599.57" cy="237.3" r="2.15"/>
<circle cx="604.41" cy="237.3" r="2.15"/>
<circle cx="609.25" cy="237.3" r="2.15"/>
<circle cx="614.09" cy="237.3" r="2.15"/>
<circle cx="618.93" cy="237.3" r="2.15"/>
<circle cx="623.77" cy="237.3" r="2.15"/>
<circle cx="633.45" cy="237.3" r="2.15"/>
<circle cx="638.28" cy="237.3" r="2.15"/>
<circle cx="643.12" cy="237.3" r="2.15"/>
<circle cx="647.96" cy="237.3" r="2.15"/>
<circle cx="652.8" cy="237.3" r="2.15"/>
<circle cx="657.64" cy="237.3" r="2.15"/>
<circle cx="662.48" cy="237.3" r="2.15"/>
<circle cx="667.32" cy="237.3" r="2.15"/>
<circle cx="672.16" cy="237.3" r="2.15"/>
<circle cx="677" cy="237.3" r="2.15"/>
<circle cx="372.14" cy="245.49" r="2.15"/>
<circle cx="376.98" cy="245.49" r="2.15"/>
<circle cx="381.82" cy="245.49" r="2.15"/>
<circle cx="386.66" cy="245.49" r="2.15"/>
<circle cx="391.5" cy="245.49" r="2.15"/>
<circle cx="396.33" cy="245.49" r="2.15"/>
<circle cx="401.17" cy="245.49" r="2.15"/>
<circle cx="406.01" cy="245.49" r="2.15"/>
<circle cx="410.85" cy="245.49" r="2.15"/>
<circle cx="415.69" cy="245.49" r="2.15"/>
<circle cx="425.37" cy="245.49" r="2.15"/>
<circle cx="430.21" cy="245.49" r="2.15"/>
<circle cx="435.05" cy="245.49" r="2.15"/>
<circle cx="439.88" cy="245.49" r="2.15"/>
<circle cx="444.72" cy="245.49" r="2.15"/>
<circle cx="449.56" cy="245.49" r="2.15"/>
<circle cx="454.4" cy="245.49" r="2.15"/>
<circle cx="459.24" cy="245.49" r="2.15"/>
<circle cx="464.08" cy="245.49" r="2.15"/>
<circle cx="468.92" cy="245.49" r="2.15"/>
<circle cx="473.76" cy="245.49" r="2.15"/>
<circle cx="483.44" cy="245.49" r="2.15"/>
<circle cx="488.28" cy="245.49" r="2.15"/>
<circle cx="493.11" cy="245.49" r="2.15"/>
<circle cx="497.95" cy="245.49" r="2.15"/>
<circle cx="502.79" cy="245.49" r="2.15"/>
<circle cx="507.63" cy="245.49" r="2.15"/>
<circle cx="512.47" cy="245.49" r="2.15"/>
<circle cx="517.31" cy="245.49" r="2.15"/>
<circle cx="522.15" cy="245.49" r="2.15"/>
<circle cx="526.99" cy="245.49" r="2.15"/>
<circle cx="531.83" cy="245.49" r="2.15"/>
<circle cx="536.66" cy="245.49" r="2.15"/>
<circle cx="541.5" cy="245.49" r="2.15"/>
<circle cx="546.34" cy="245.49" r="2.15"/>
<circle cx="551.18" cy="245.49" r="2.15"/>
<circle cx="556.02" cy="245.49" r="2.15"/>
<circle cx="560.86" cy="245.49" r="2.15"/>
<circle cx="565.7" cy="245.49" r="2.15"/>
<circle cx="570.54" cy="245.49" r="2.15"/>
<circle cx="575.38" cy="245.49" r="2.15"/>
<circle cx="580.22" cy="245.49" r="2.15"/>
<circle cx="585.06" cy="245.49" r="2.15"/>
<circle cx="589.89" cy="245.49" r="2.15"/>
<circle cx="594.73" cy="245.49" r="2.15"/>
<circle cx="604.41" cy="245.49" r="2.15"/>
<circle cx="609.25" cy="245.49" r="2.15"/>
<circle cx="614.09" cy="245.49" r="2.15"/>
<circle cx="618.93" cy="245.49" r="2.15"/>
<circle cx="623.77" cy="245.49" r="2.15"/>
<circle cx="628.61" cy="245.49" r="2.15"/>
<circle cx="633.45" cy="245.49" r="2.15"/>
<circle cx="638.28" cy="245.49" r="2.15"/>
<circle cx="643.12" cy="245.49" r="2.15"/>
<circle cx="657.64" cy="245.49" r="2.15"/>
<circle cx="662.48" cy="245.49" r="2.15"/>
<circle cx="667.32" cy="245.49" r="2.15"/>
<circle cx="672.16" cy="245.49" r="2.15"/>
<circle cx="677" cy="245.49" r="2.15"/>
<circle cx="367.3" cy="253.68" r="2.15"/>
<circle cx="372.14" cy="253.68" r="2.15"/>
<circle cx="376.98" cy="253.68" r="2.15"/>
<circle cx="381.82" cy="253.68" r="2.15"/>
<circle cx="406.01" cy="253.68" r="2.15"/>
<circle cx="415.69" cy="253.68" r="2.15"/>
<circle cx="425.37" cy="253.68" r="2.15"/>
<circle cx="430.21" cy="253.68" r="2.15"/>
<circle cx="435.05" cy="253.68" r="2.15"/>
<circle cx="439.88" cy="253.68" r="2.15"/>
<circle cx="449.56" cy="253.68" r="2.15"/>
<circle cx="478.6" cy="253.68" r="2.15"/>
<circle cx="497.95" cy="253.68" r="2.15"/>
<circle cx="507.63" cy="253.68" r="2.15"/>
<circle cx="512.47" cy="253.68" r="2.15"/>
<circle cx="541.5" cy="253.68" r="2.15"/>
<circle cx="570.54" cy="253.68" r="2.15"/>
<circle cx="575.38" cy="253.68" r="2.15"/>
<circle cx="580.22" cy="253.68" r="2.15"/>
<circle cx="614.09" cy="253.68" r="2.15"/>
<circle cx="623.77" cy="253.68" r="2.15"/>
<circle cx="633.45" cy="253.68" r="2.15"/>
<circle cx="647.96" cy="253.68" r="2.15"/>
<circle cx="662.48" cy="253.68" r="2.15"/>
<circle cx="667.32" cy="253.68" r="2.15"/>
</g>
<g fill="#151515">
<circle cx="478.6" cy="155.4" r="2.45"/>
<circle cx="507.63" cy="155.4" r="2.45"/>
<circle cx="512.47" cy="155.4" r="2.45"/>
<circle cx="522.15" cy="155.4" r="2.45"/>
<circle cx="536.66" cy="155.4" r="2.45"/>
<circle cx="556.02" cy="155.4" r="2.45"/>
<circle cx="565.7" cy="155.4" r="2.45"/>
<circle cx="585.06" cy="155.4" r="2.45"/>
<circle cx="589.89" cy="155.4" r="2.45"/>
<circle cx="594.73" cy="155.4" r="2.45"/>
<circle cx="599.57" cy="155.4" r="2.45"/>
<circle cx="609.25" cy="155.4" r="2.45"/>
<circle cx="618.93" cy="155.4" r="2.45"/>
<circle cx="623.77" cy="155.4" r="2.45"/>
<circle cx="628.61" cy="155.4" r="2.45"/>
<circle cx="633.45" cy="155.4" r="2.45"/>
<circle cx="638.28" cy="155.4" r="2.45"/>
<circle cx="643.12" cy="155.4" r="2.45"/>
<circle cx="647.96" cy="155.4" r="2.45"/>
<circle cx="652.8" cy="155.4" r="2.45"/>
<circle cx="657.64" cy="155.4" r="2.45"/>
<circle cx="662.48" cy="155.4" r="2.45"/>
<circle cx="667.32" cy="155.4" r="2.45"/>
<circle cx="672.16" cy="155.4" r="2.45"/>
<circle cx="677" cy="155.4" r="2.45"/>
<circle cx="517.31" cy="163.59" r="2.45"/>
<circle cx="526.99" cy="163.59" r="2.45"/>
<circle cx="531.83" cy="163.59" r="2.45"/>
<circle cx="570.54" cy="163.59" r="2.45"/>
<circle cx="589.89" cy="163.59" r="2.45"/>
<circle cx="599.57" cy="163.59" r="2.45"/>
<circle cx="609.25" cy="163.59" r="2.45"/>
<circle cx="618.93" cy="163.59" r="2.45"/>
<circle cx="628.61" cy="163.59" r="2.45"/>
<circle cx="633.45" cy="163.59" r="2.45"/>
<circle cx="638.28" cy="163.59" r="2.45"/>
<circle cx="657.64" cy="163.59" r="2.45"/>
<circle cx="541.5" cy="171.78" r="2.45"/>
<circle cx="609.25" cy="171.78" r="2.45"/>
<circle cx="401.17" cy="179.97" r="2.45"/>
<circle cx="430.21" cy="179.97" r="2.45"/>
<circle cx="439.88" cy="179.97" r="2.45"/>
<circle cx="449.56" cy="179.97" r="2.45"/>
<circle cx="464.08" cy="179.97" r="2.45"/>
<circle cx="468.92" cy="179.97" r="2.45"/>
<circle cx="488.28" cy="179.97" r="2.45"/>
<circle cx="517.31" cy="179.97" r="2.45"/>
<circle cx="526.99" cy="179.97" r="2.45"/>
<circle cx="638.28" cy="179.97" r="2.45"/>
<circle cx="396.33" cy="188.16" r="2.45"/>
<circle cx="406.01" cy="188.16" r="2.45"/>
<circle cx="410.85" cy="188.16" r="2.45"/>
<circle cx="420.53" cy="188.16" r="2.45"/>
<circle cx="425.37" cy="188.16" r="2.45"/>
<circle cx="439.88" cy="188.16" r="2.45"/>
<circle cx="449.56" cy="188.16" r="2.45"/>
<circle cx="454.4" cy="188.16" r="2.45"/>
<circle cx="459.24" cy="188.16" r="2.45"/>
<circle cx="464.08" cy="188.16" r="2.45"/>
<circle cx="473.76" cy="188.16" r="2.45"/>
<circle cx="483.44" cy="188.16" r="2.45"/>
<circle cx="488.28" cy="188.16" r="2.45"/>
<circle cx="497.95" cy="188.16" r="2.45"/>
<circle cx="502.79" cy="188.16" r="2.45"/>
<circle cx="517.31" cy="188.16" r="2.45"/>
<circle cx="526.99" cy="188.16" r="2.45"/>
<circle cx="531.83" cy="188.16" r="2.45"/>
<circle cx="560.86" cy="188.16" r="2.45"/>
<circle cx="575.38" cy="188.16" r="2.45"/>
<circle cx="372.14" cy="196.35" r="2.45"/>
<circle cx="459.24" cy="196.35" r="2.45"/>
<circle cx="507.63" cy="196.35" r="2.45"/>
<circle cx="522.15" cy="196.35" r="2.45"/>
<circle cx="623.77" cy="196.35" r="2.45"/>
<circle cx="643.12" cy="196.35" r="2.45"/>
<circle cx="381.82" cy="204.54" r="2.45"/>
<circle cx="396.33" cy="204.54" r="2.45"/>
<circle cx="444.72" cy="204.54" r="2.45"/>
<circle cx="468.92" cy="204.54" r="2.45"/>
<circle cx="473.76" cy="204.54" r="2.45"/>
<circle cx="493.11" cy="204.54" r="2.45"/>
<circle cx="497.95" cy="204.54" r="2.45"/>
<circle cx="502.79" cy="204.54" r="2.45"/>
<circle cx="551.18" cy="204.54" r="2.45"/>
<circle cx="556.02" cy="204.54" r="2.45"/>
<circle cx="580.22" cy="204.54" r="2.45"/>
<circle cx="594.73" cy="204.54" r="2.45"/>
<circle cx="604.41" cy="204.54" r="2.45"/>
<circle cx="667.32" cy="204.54" r="2.45"/>
<circle cx="672.16" cy="204.54" r="2.45"/>
<circle cx="546.34" cy="212.73" r="2.45"/>
<circle cx="551.18" cy="212.73" r="2.45"/>
<circle cx="560.86" cy="212.73" r="2.45"/>
<circle cx="575.38" cy="212.73" r="2.45"/>
<circle cx="580.22" cy="212.73" r="2.45"/>
<circle cx="604.41" cy="212.73" r="2.45"/>
<circle cx="614.09" cy="212.73" r="2.45"/>
<circle cx="623.77" cy="212.73" r="2.45"/>
<circle cx="633.45" cy="212.73" r="2.45"/>
<circle cx="643.12" cy="212.73" r="2.45"/>
<circle cx="647.96" cy="212.73" r="2.45"/>
<circle cx="652.8" cy="212.73" r="2.45"/>
<circle cx="657.64" cy="212.73" r="2.45"/>
<circle cx="662.48" cy="212.73" r="2.45"/>
<circle cx="667.32" cy="212.73" r="2.45"/>
<circle cx="672.16" cy="212.73" r="2.45"/>
<circle cx="677" cy="212.73" r="2.45"/>
<circle cx="386.66" cy="220.92" r="2.45"/>
<circle cx="401.17" cy="220.92" r="2.45"/>
<circle cx="410.85" cy="220.92" r="2.45"/>
<circle cx="415.69" cy="220.92" r="2.45"/>
<circle cx="420.53" cy="220.92" r="2.45"/>
<circle cx="425.37" cy="220.92" r="2.45"/>
<circle cx="444.72" cy="220.92" r="2.45"/>
<circle cx="449.56" cy="220.92" r="2.45"/>
<circle cx="459.24" cy="220.92" r="2.45"/>
<circle cx="464.08" cy="220.92" r="2.45"/>
<circle cx="468.92" cy="220.92" r="2.45"/>
<circle cx="473.76" cy="220.92" r="2.45"/>
<circle cx="497.95" cy="220.92" r="2.45"/>
<circle cx="517.31" cy="220.92" r="2.45"/>
<circle cx="531.83" cy="220.92" r="2.45"/>
<circle cx="546.34" cy="220.92" r="2.45"/>
<circle cx="551.18" cy="220.92" r="2.45"/>
<circle cx="560.86" cy="220.92" r="2.45"/>
<circle cx="565.7" cy="220.92" r="2.45"/>
<circle cx="575.38" cy="220.92" r="2.45"/>
<circle cx="580.22" cy="220.92" r="2.45"/>
<circle cx="435.05" cy="229.11" r="2.45"/>
<circle cx="483.44" cy="229.11" r="2.45"/>
<circle cx="488.28" cy="229.11" r="2.45"/>
<circle cx="493.11" cy="229.11" r="2.45"/>
<circle cx="502.79" cy="229.11" r="2.45"/>
<circle cx="526.99" cy="229.11" r="2.45"/>
<circle cx="585.06" cy="229.11" r="2.45"/>
<circle cx="589.89" cy="229.11" r="2.45"/>
<circle cx="594.73" cy="229.11" r="2.45"/>
<circle cx="376.98" cy="237.3" r="2.45"/>
<circle cx="628.61" cy="237.3" r="2.45"/>
<circle cx="367.3" cy="245.49" r="2.45"/>
<circle cx="420.53" cy="245.49" r="2.45"/>
<circle cx="478.6" cy="245.49" r="2.45"/>
<circle cx="599.57" cy="245.49" r="2.45"/>
<circle cx="647.96" cy="245.49" r="2.45"/>
<circle cx="652.8" cy="245.49" r="2.45"/>
<circle cx="386.66" cy="253.68" r="2.45"/>
<circle cx="391.5" cy="253.68" r="2.45"/>
<circle cx="396.33" cy="253.68" r="2.45"/>
<circle cx="401.17" cy="253.68" r="2.45"/>
<circle cx="410.85" cy="253.68" r="2.45"/>
<circle cx="420.53" cy="253.68" r="2.45"/>
<circle cx="444.72" cy="253.68" r="2.45"/>
<circle cx="454.4" cy="253.68" r="2.45"/>
<circle cx="459.24" cy="253.68" r="2.45"/>
<circle cx="464.08" cy="253.68" r="2.45"/>
<circle cx="468.92" cy="253.68" r="2.45"/>
<circle cx="473.76" cy="253.68" r="2.45"/>
<circle cx="483.44" cy="253.68" r="2.45"/>
<circle cx="488.28" cy="253.68" r="2.45"/>
<circle cx="493.11" cy="253.68" r="2.45"/>
<circle cx="502.79" cy="253.68" r="2.45"/>
<circle cx="517.31" cy="253.68" r="2.45"/>
<circle cx="522.15" cy="253.68" r="2.45"/>
<circle cx="526.99" cy="253.68" r="2.45"/>
<circle cx="531.83" cy="253.68" r="2.45"/>
<circle cx="536.66" cy="253.68" r="2.45"/>
<circle cx="546.34" cy="253.68" r="2.45"/>
<circle cx="551.18" cy="253.68" r="2.45"/>
<circle cx="556.02" cy="253.68" r="2.45"/>
<circle cx="560.86" cy="253.68" r="2.45"/>
<circle cx="565.7" cy="253.68" r="2.45"/>
<circle cx="585.06" cy="253.68" r="2.45"/>
<circle cx="589.89" cy="253.68" r="2.45"/>
<circle cx="594.73" cy="253.68" r="2.45"/>
<circle cx="599.57" cy="253.68" r="2.45"/>
<circle cx="604.41" cy="253.68" r="2.45"/>
<circle cx="609.25" cy="253.68" r="2.45"/>
<circle cx="618.93" cy="253.68" r="2.45"/>
<circle cx="628.61" cy="253.68" r="2.45"/>
<circle cx="638.28" cy="253.68" r="2.45"/>
<circle cx="643.12" cy="253.68" r="2.45"/>
<circle cx="652.8" cy="253.68" r="2.45"/>
<circle cx="657.64" cy="253.68" r="2.45"/>
<circle cx="672.16" cy="253.68" r="2.45"/>
<circle cx="677" cy="253.68" r="2.45"/>
</g>
<text x="-0.2" y="300" font-size="16.5" font-weight="bold" fill="#111" stroke="#111" stroke-width="0.6">c</text>
<text x="306.3" y="295.2" font-size="12" textLength="149.2" lengthAdjust="spacing">In vivo population outcomes</text>
<text x="149" y="336.2" font-size="11.5" textLength="49.9" lengthAdjust="spacingAndGlyphs">Relapsing</text>
<text x="284.7" y="336.1" font-size="11.5" textLength="61.3" lengthAdjust="spacing">Bactericidal</text>
<text x="431.9" y="336" font-size="11.5" textLength="61.9" lengthAdjust="spacing">Bactericidal</text>
<text x="423.3" y="348.9" font-size="11.5" textLength="79.4" lengthAdjust="spacing">granulomatous</text>
<text x="599.9" y="326.4" font-size="11.5" textLength="38.5" lengthAdjust="spacing">Clinical</text>
<text x="609.2" y="339.7" font-size="11.5" textLength="19.7" lengthAdjust="spacingAndGlyphs">trial</text>
<g transform="translate(150,304)"><path d="M2.45,11.04 C3.2,9.6 4.6,7.6 5.8,6.1 L6.3,4.2 C6.5,3.4 7.3,3.1 8.0,3.6 L8.6,4.9 C10.5,4.3 12.5,3.4 15.3,3.07 C18.4,2.9 21,4.2 22.7,6.13 C23.8,7.5 24.3,8.8 24.5,10.4 C23.5,11.4 22,12.3 20.8,12.9 L19.6,13.9 L18.4,14.7 L16.5,14.8 L15.9,13.8 C15,13.5 14.2,13.3 13.5,13.2 L11.0,13.5 L9.8,14.4 L9.1,13.8 L8.6,12.6 C7.5,12.2 6.8,12.0 6.1,12.0 C5,12.0 3.6,12.0 2.45,11.04 Z" fill="#1e1e1e"/><path d="M24,10.3 C27,9.8 32,9.9 36.2,11.4 C38.5,12.3 39.8,13.5 39.4,14.8 C39,16 37.6,17 36.2,17.8" fill="none" stroke="#1e1e1e" stroke-width="1.1" stroke-linecap="round"/></g>
<g transform="translate(285,304.2)"><path d="M2.45,11.04 C3.2,9.6 4.6,7.6 5.8,6.1 L6.3,4.2 C6.5,3.4 7.3,3.1 8.0,3.6 L8.6,4.9 C10.5,4.3 12.5,3.4 15.3,3.07 C18.4,2.9 21,4.2 22.7,6.13 C23.8,7.5 24.3,8.8 24.5,10.4 C23.5,11.4 22,12.3 20.8,12.9 L19.6,13.9 L18.4,14.7 L16.5,14.8 L15.9,13.8 C15,13.5 14.2,13.3 13.5,13.2 L11.0,13.5 L9.8,14.4 L9.1,13.8 L8.6,12.6 C7.5,12.2 6.8,12.0 6.1,12.0 C5,12.0 3.6,12.0 2.45,11.04 Z" fill="#1e1e1e"/><path d="M24,10.3 C27,9.8 32,9.9 36.2,11.4 C38.5,12.3 39.8,13.5 39.4,14.8 C39,16 37.6,17 36.2,17.8" fill="none" stroke="#1e1e1e" stroke-width="1.1" stroke-linecap="round"/></g>
<g transform="translate(433,303.8)"><path d="M2.45,11.04 C3.2,9.6 4.6,7.6 5.8,6.1 L6.3,4.2 C6.5,3.4 7.3,3.1 8.0,3.6 L8.6,4.9 C10.5,4.3 12.5,3.4 15.3,3.07 C18.4,2.9 21,4.2 22.7,6.13 C23.8,7.5 24.3,8.8 24.5,10.4 C23.5,11.4 22,12.3 20.8,12.9 L19.6,13.9 L18.4,14.7 L16.5,14.8 L15.9,13.8 C15,13.5 14.2,13.3 13.5,13.2 L11.0,13.5 L9.8,14.4 L9.1,13.8 L8.6,12.6 C7.5,12.2 6.8,12.0 6.1,12.0 C5,12.0 3.6,12.0 2.45,11.04 Z" fill="#1e1e1e"/><path d="M24,10.3 C27,9.8 32,9.9 36.2,11.4 C38.5,12.3 39.8,13.5 39.4,14.8 C39,16 37.6,17 36.2,17.8" fill="none" stroke="#1e1e1e" stroke-width="1.1" stroke-linecap="round"/></g>
<path transform="translate(572.8,308)" d="M7.5,0 C9,0 10,1.3 10,3 C10,4.6 9.2,5.8 8.5,6.3 L8.6,7.6 L12.6,8.4 C13.3,8.8 13.6,9.8 13.6,11 L14.3,18 L14.6,22.8 C14.6,24.6 13.6,25.6 13.2,24.9 L12.9,22.5 L12.1,18.5 L11.6,13.2 L11.2,16.8 L12,21 L11.8,30 L10.8,40.6 L11.2,42.2 L9,42.4 L8.8,40.6 L8.1,29 L7.5,23.4 L6.9,29 L6.2,40.6 L6,42.4 L3.8,42.2 L4.2,40.6 L3.2,30 L3,21 L3.8,16.8 L3.4,13.2 L2.9,18.5 L2.1,22.5 L1.8,24.9 C1.4,25.6 0.4,24.6 0.4,22.8 L0.7,18 L1.4,11 C1.4,9.8 1.7,8.8 2.4,8.4 L6.4,7.6 L6.5,6.3 C5.8,5.8 5,4.6 5,3 C5,1.3 6,0 7.5,0 Z" fill="#1e1e1e"/>
<path d="M118.5,369.2 L118.5,493.5 L220.4,493.5" fill="none" stroke="#858585" stroke-width="1.1" stroke-linejoin="round"/>
<text x="113.7" y="373.1" font-size="9.8" text-anchor="end" textLength="13" lengthAdjust="spacingAndGlyphs" fill="#3a3a3a">90</text>
<text x="113.7" y="414.25" font-size="9.8" text-anchor="end" textLength="13" lengthAdjust="spacingAndGlyphs" fill="#3a3a3a">85</text>
<text x="113.7" y="455.4" font-size="9.8" text-anchor="end" textLength="13" lengthAdjust="spacingAndGlyphs" fill="#3a3a3a">80</text>
<text x="113.7" y="496.55" font-size="9.8" text-anchor="end" textLength="13" lengthAdjust="spacingAndGlyphs" fill="#3a3a3a">75</text>
<path d="M265.5,369.2 L265.5,493.5 L367,493.5" fill="none" stroke="#858585" stroke-width="1.1" stroke-linejoin="round"/>
<text x="261.7" y="373.1" font-size="9.8" text-anchor="end" textLength="13" lengthAdjust="spacingAndGlyphs" fill="#3a3a3a">90</text>
<text x="261.7" y="414.25" font-size="9.8" text-anchor="end" textLength="13" lengthAdjust="spacingAndGlyphs" fill="#3a3a3a">85</text>
<text x="261.7" y="455.4" font-size="9.8" text-anchor="end" textLength="13" lengthAdjust="spacingAndGlyphs" fill="#3a3a3a">80</text>
<text x="261.7" y="496.55" font-size="9.8" text-anchor="end" textLength="13" lengthAdjust="spacingAndGlyphs" fill="#3a3a3a">75</text>
<path d="M412.5,369.2 L412.5,493.5 L514.2,493.5" fill="none" stroke="#858585" stroke-width="1.1" stroke-linejoin="round"/>
<text x="408.5" y="373.1" font-size="9.8" text-anchor="end" textLength="13" lengthAdjust="spacingAndGlyphs" fill="#3a3a3a">90</text>
<text x="408.5" y="414.25" font-size="9.8" text-anchor="end" textLength="13" lengthAdjust="spacingAndGlyphs" fill="#3a3a3a">85</text>
<text x="408.5" y="455.4" font-size="9.8" text-anchor="end" textLength="13" lengthAdjust="spacingAndGlyphs" fill="#3a3a3a">80</text>
<text x="408.5" y="496.55" font-size="9.8" text-anchor="end" textLength="13" lengthAdjust="spacingAndGlyphs" fill="#3a3a3a">75</text>
<path d="M559.5,369.2 L559.5,493.5 L660.7,493.5" fill="none" stroke="#858585" stroke-width="1.1" stroke-linejoin="round"/>
<text x="555.4" y="373.1" font-size="9.8" text-anchor="end" textLength="13" lengthAdjust="spacingAndGlyphs" fill="#3a3a3a">90</text>
<text x="555.4" y="414.25" font-size="9.8" text-anchor="end" textLength="13" lengthAdjust="spacingAndGlyphs" fill="#3a3a3a">85</text>
<text x="555.4" y="455.4" font-size="9.8" text-anchor="end" textLength="13" lengthAdjust="spacingAndGlyphs" fill="#3a3a3a">80</text>
<text x="555.4" y="496.55" font-size="9.8" text-anchor="end" textLength="13" lengthAdjust="spacingAndGlyphs" fill="#3a3a3a">75</text>
<text transform="translate(59.5,428.4) rotate(-90)" font-size="12" text-anchor="middle" textLength="85.2" lengthAdjust="spacing">In vitro viability</text>
<text transform="translate(79.6,433) rotate(-90)" font-size="11.5" text-anchor="middle" textLength="77.3" lengthAdjust="spacing">Area under the</text>
<text transform="translate(92.1,431.4) rotate(-90)" font-size="11.5" text-anchor="middle" textLength="66" lengthAdjust="spacing">kill curve (%)</text>
<line x1="147.7" y1="402" x2="147.7" y2="394.7" stroke="#333" stroke-width="0.8"/>
<line x1="141.2" y1="394.7" x2="154.7" y2="394.7" stroke="#333" stroke-width="0.8"/>
<line x1="147.7" y1="423.1" x2="147.7" y2="432.7" stroke="#333" stroke-width="0.8"/>
<line x1="141.2" y1="432.7" x2="154.7" y2="432.7" stroke="#333" stroke-width="0.8"/>
<rect x="133.7" y="402" width="28" height="21.1" fill="#f27a76" stroke="#333" stroke-width="0.8"/>
<line x1="133.7" y1="404.1" x2="161.7" y2="404.1" stroke="#333" stroke-width="0.8"/>
<g fill="#151515">
<circle cx="141.2" cy="394.7" r="1.42"/>
<circle cx="147.7" cy="397.1" r="1.42"/>
<circle cx="160.8" cy="399.4" r="1.42"/>
<circle cx="134.5" cy="402" r="1.42"/>
<circle cx="141.2" cy="404.7" r="1.42"/>
<circle cx="141.2" cy="407.7" r="1.42"/>
<circle cx="154.7" cy="404.1" r="1.42"/>
<circle cx="160.8" cy="402.9" r="1.42"/>
<circle cx="147.7" cy="410.8" r="1.42"/>
<circle cx="154.7" cy="427.4" r="1.42"/>
<circle cx="147.7" cy="430.1" r="1.42"/>
<circle cx="141.2" cy="432.7" r="1.42"/>
<circle cx="154.7" cy="432.2" r="1.42"/>
</g>
<circle cx="141.2" cy="400.6" r="2.95" fill="#2b3990" stroke="#333" stroke-width="0.45"/>
<circle cx="147.7" cy="405.9" r="2.95" fill="#27aae1" stroke="#333" stroke-width="0.45"/>
<line x1="191.45" y1="415.7" x2="191.45" y2="400.3" stroke="#333" stroke-width="0.8"/>
<line x1="184.5" y1="400.3" x2="198.5" y2="400.3" stroke="#333" stroke-width="0.8"/>
<line x1="191.45" y1="457.2" x2="191.45" y2="479.5" stroke="#333" stroke-width="0.8"/>
<line x1="184.8" y1="479.5" x2="198.5" y2="479.5" stroke="#333" stroke-width="0.8"/>
<rect x="177.4" y="415.7" width="28.1" height="41.5" fill="#0d8e8c" stroke="#333" stroke-width="0.8"/>
<line x1="177.4" y1="445.5" x2="205.5" y2="445.5" stroke="#333" stroke-width="0.8"/>
<g fill="#151515">
<circle cx="191.5" cy="400.3" r="1.42"/>
<circle cx="178.3" cy="409.1" r="1.42"/>
<circle cx="184.8" cy="408.2" r="1.42"/>
<circle cx="191.5" cy="409.1" r="1.42"/>
<circle cx="197.6" cy="410.5" r="1.42"/>
<circle cx="204.6" cy="407.3" r="1.42"/>
<circle cx="191.5" cy="412.6" r="1.42"/>
<circle cx="188" cy="416.4" r="1.42"/>
<circle cx="194.6" cy="416.1" r="1.42"/>
<circle cx="188" cy="421.3" r="1.42"/>
<circle cx="194.6" cy="420.4" r="1.42"/>
<circle cx="184.8" cy="427.4" r="1.42"/>
<circle cx="197.6" cy="429.2" r="1.42"/>
<circle cx="191.5" cy="431.8" r="1.42"/>
<circle cx="191.5" cy="443.2" r="1.42"/>
<circle cx="178.3" cy="447.9" r="1.42"/>
<circle cx="184.8" cy="450.6" r="1.42"/>
<circle cx="191.5" cy="448.5" r="1.42"/>
<circle cx="197.6" cy="449.3" r="1.42"/>
<circle cx="178.3" cy="452.5" r="1.42"/>
<circle cx="178.3" cy="457.8" r="1.42"/>
<circle cx="184.8" cy="457.8" r="1.42"/>
<circle cx="197.6" cy="456.4" r="1.42"/>
<circle cx="191.5" cy="463" r="1.42"/>
<circle cx="191.5" cy="473.9" r="1.42"/>
<circle cx="197.6" cy="472.1" r="1.42"/>
<circle cx="197.6" cy="476.5" r="1.42"/>
</g>
<circle cx="191.5" cy="455.5" r="2.95" fill="#ed1c24" stroke="#333" stroke-width="0.45"/>
<circle cx="184.8" cy="479.5" r="2.95" fill="#9e1f63" stroke="#333" stroke-width="0.45"/>
<line x1="294.45" y1="401.4" x2="294.45" y2="383" stroke="#333" stroke-width="0.8"/>
<line x1="287.3" y1="383" x2="301.7" y2="383" stroke="#333" stroke-width="0.8"/>
<line x1="294.45" y1="426.8" x2="294.45" y2="472" stroke="#333" stroke-width="0.8"/>
<line x1="287.3" y1="472" x2="301.7" y2="472" stroke="#333" stroke-width="0.8"/>
<rect x="280.6" y="401.4" width="27.7" height="25.4" fill="#f27a76" stroke="#333" stroke-width="0.8"/>
<line x1="280.6" y1="410.2" x2="308.3" y2="410.2" stroke="#333" stroke-width="0.8"/>
<g fill="#151515">
<circle cx="291.3" cy="383" r="1.42"/>
<circle cx="297.8" cy="383" r="1.42"/>
<circle cx="300.4" cy="395" r="1.42"/>
<circle cx="288.7" cy="397.4" r="1.42"/>
<circle cx="294.7" cy="399.7" r="1.42"/>
<circle cx="288.7" cy="402.7" r="1.42"/>
<circle cx="294.7" cy="404.9" r="1.42"/>
<circle cx="288.7" cy="407.9" r="1.42"/>
<circle cx="300.4" cy="410.7" r="1.42"/>
<circle cx="288.7" cy="411.9" r="1.42"/>
<circle cx="294.7" cy="415.4" r="1.42"/>
<circle cx="288.7" cy="416" r="1.42"/>
<circle cx="294.7" cy="420.2" r="1.42"/>
<circle cx="294.7" cy="425.1" r="1.42"/>
<circle cx="288.7" cy="430" r="1.42"/>
<circle cx="294.7" cy="433" r="1.42"/>
<circle cx="300.4" cy="432.4" r="1.42"/>
<circle cx="294.7" cy="451.7" r="1.42"/>
<circle cx="294.7" cy="472.4" r="1.42"/>
</g>
<circle cx="300.4" cy="405.8" r="2.95" fill="#27aae1" stroke="#333" stroke-width="0.45"/>
<line x1="338.1" y1="410.7" x2="338.1" y2="400.2" stroke="#333" stroke-width="0.8"/>
<line x1="331" y1="400.2" x2="345" y2="400.2" stroke="#333" stroke-width="0.8"/>
<line x1="338.1" y1="457.1" x2="338.1" y2="479.4" stroke="#333" stroke-width="0.8"/>
<line x1="331" y1="479.4" x2="345" y2="479.4" stroke="#333" stroke-width="0.8"/>
<rect x="324.4" y="410.7" width="27.4" height="46.4" fill="#0d8e8c" stroke="#333" stroke-width="0.8"/>
<line x1="324.4" y1="443.5" x2="351.8" y2="443.5" stroke="#333" stroke-width="0.8"/>
<g fill="#151515">
<circle cx="338.1" cy="400.2" r="1.42"/>
<circle cx="344.6" cy="400.2" r="1.42"/>
<circle cx="338.1" cy="402.7" r="1.42"/>
<circle cx="325.3" cy="407.2" r="1.42"/>
<circle cx="338.1" cy="407.9" r="1.42"/>
<circle cx="331.5" cy="410.2" r="1.42"/>
<circle cx="344.6" cy="409.7" r="1.42"/>
<circle cx="350.9" cy="409.3" r="1.42"/>
<circle cx="338.1" cy="416.3" r="1.42"/>
<circle cx="338.1" cy="421.2" r="1.42"/>
<circle cx="331.5" cy="429.5" r="1.42"/>
<circle cx="338.1" cy="428.2" r="1.42"/>
<circle cx="344.6" cy="427.2" r="1.42"/>
<circle cx="338.1" cy="432.1" r="1.42"/>
<circle cx="338.1" cy="443.5" r="1.42"/>
<circle cx="331.5" cy="448.2" r="1.42"/>
<circle cx="338.1" cy="450.5" r="1.42"/>
<circle cx="344.6" cy="449.6" r="1.42"/>
<circle cx="344.6" cy="452.8" r="1.42"/>
<circle cx="325.3" cy="457.5" r="1.42"/>
<circle cx="344.6" cy="457.5" r="1.42"/>
<circle cx="350.9" cy="456.3" r="1.42"/>
<circle cx="338.1" cy="459.2" r="1.42"/>
<circle cx="338.1" cy="463.3" r="1.42"/>
<circle cx="338.1" cy="474.1" r="1.42"/>
<circle cx="344.6" cy="476.8" r="1.42"/>
</g>
<circle cx="331.5" cy="455.7" r="2.95" fill="#ed1c24" stroke="#333" stroke-width="0.45"/>
<circle cx="331.5" cy="479.4" r="2.95" fill="#9e1f63" stroke="#333" stroke-width="0.45"/>
<line x1="441.5" y1="395.6" x2="441.5" y2="383.4" stroke="#333" stroke-width="0.8"/>
<line x1="434.3" y1="383.4" x2="448.3" y2="383.4" stroke="#333" stroke-width="0.8"/>
<line x1="441.5" y1="403.2" x2="441.5" y2="421.6" stroke="#333" stroke-width="0.8"/>
<line x1="434.3" y1="421.6" x2="448.3" y2="421.6" stroke="#333" stroke-width="0.8"/>
<rect x="427.3" y="395.6" width="28.4" height="7.6" fill="#f27a76" stroke="#333" stroke-width="0.8"/>
<line x1="427.3" y1="399.7" x2="455.7" y2="399.7" stroke="#333" stroke-width="0.8"/>
<g fill="#151515">
<circle cx="441.3" cy="383.4" r="1.42"/>
<circle cx="438.3" cy="395.3" r="1.42"/>
<circle cx="444.5" cy="395" r="1.42"/>
<circle cx="438.3" cy="399.7" r="1.42"/>
<circle cx="444.5" cy="399.1" r="1.42"/>
<circle cx="450.1" cy="399.7" r="1.42"/>
<circle cx="438.3" cy="402.7" r="1.42"/>
<circle cx="444.5" cy="402" r="1.42"/>
<circle cx="441.3" cy="421.6" r="1.42"/>
</g>
<circle cx="444.5" cy="405.8" r="2.95" fill="#27aae1" stroke="#333" stroke-width="0.45"/>
<line x1="484.9" y1="452.2" x2="484.9" y2="476.4" stroke="#333" stroke-width="0.8"/>
<line x1="479" y1="476.4" x2="492.1" y2="476.4" stroke="#333" stroke-width="0.8"/>
<rect x="470.7" y="408.1" width="28.4" height="44.1" fill="#0d8e8c" stroke="#333" stroke-width="0.8"/>
<line x1="470.7" y1="409.7" x2="499.1" y2="409.7" stroke="#333" stroke-width="0.8"/>
<g fill="#151515">
<circle cx="479" cy="407.6" r="1.42"/>
<circle cx="484.8" cy="410.2" r="1.42"/>
<circle cx="490.7" cy="408.1" r="1.42"/>
<circle cx="484.8" cy="429.5" r="1.42"/>
<circle cx="484.8" cy="476.4" r="1.42"/>
</g>
<line x1="588.35" y1="401.6" x2="588.35" y2="399.5" stroke="#333" stroke-width="0.8"/>
<line x1="581.3" y1="399.5" x2="595.5" y2="399.5" stroke="#333" stroke-width="0.8"/>
<line x1="588.35" y1="408.3" x2="588.35" y2="449.2" stroke="#333" stroke-width="0.8"/>
<line x1="581.3" y1="449.2" x2="595.5" y2="449.2" stroke="#333" stroke-width="0.8"/>
<rect x="574.3" y="401.6" width="28.1" height="6.7" fill="#f27a76" stroke="#333" stroke-width="0.8"/>
<line x1="574.3" y1="406.2" x2="602.4" y2="406.2" stroke="#333" stroke-width="0.8"/>
<g fill="#151515">
<circle cx="588.3" cy="400.5" r="1.42"/>
<circle cx="594.6" cy="399.9" r="1.42"/>
<circle cx="582.3" cy="402.6" r="1.42"/>
<circle cx="582.3" cy="406.9" r="1.42"/>
<circle cx="588.3" cy="409.6" r="1.42"/>
<circle cx="594.6" cy="408.3" r="1.42"/>
<circle cx="588.3" cy="449.2" r="1.42"/>
</g>
<circle cx="588.3" cy="405.8" r="2.95" fill="#27aae1" stroke="#333" stroke-width="0.45"/>
<line x1="631.85" y1="411.1" x2="631.85" y2="405.2" stroke="#333" stroke-width="0.8"/>
<line x1="624.7" y1="405.2" x2="638.4" y2="405.2" stroke="#333" stroke-width="0.8"/>
<line x1="631.85" y1="476.7" x2="631.85" y2="479.5" stroke="#333" stroke-width="0.8"/>
<line x1="624.7" y1="479.5" x2="638.4" y2="479.5" stroke="#333" stroke-width="0.8"/>
<rect x="617.9" y="411.1" width="27.9" height="65.6" fill="#0d8e8c" stroke="#333" stroke-width="0.8"/>
<line x1="617.9" y1="461.3" x2="645.8" y2="461.3" stroke="#333" stroke-width="0.8"/>
<g fill="#151515">
<circle cx="631.7" cy="405.2" r="1.42"/>
<circle cx="631.7" cy="412.2" r="1.42"/>
<circle cx="631.7" cy="457.7" r="1.42"/>
<circle cx="631.7" cy="465.7" r="1.42"/>
<circle cx="634.6" cy="476.7" r="1.42"/>
</g>
<circle cx="628.9" cy="479.5" r="2.95" fill="#9e1f63" stroke="#333" stroke-width="0.45"/>
<path d="M147.1,388.4 L147.1,382.4 L191.5,382.4 L191.5,388.4" fill="none" stroke="#555" stroke-width="0.8"/>
<text x="167.5" y="384.5" font-size="15" text-anchor="middle">****</text>
<path d="M294.3,377.4 L294.3,371.3 L338.1,371.3 L338.1,377.4" fill="none" stroke="#555" stroke-width="0.8"/>
<text x="313.6" y="374.3" font-size="15" text-anchor="middle">**</text>
<path d="M441.3,377.4 L441.3,371.3 L485.1,371.3 L485.1,377.4" fill="none" stroke="#555" stroke-width="0.8"/>
<text x="462.7" y="374.3" font-size="15" text-anchor="middle">**</text>
<path d="M588.3,393.7 L588.3,387.4 L631.7,387.4 L631.7,393.7" fill="none" stroke="#555" stroke-width="0.8"/>
<text x="610.5" y="390.4" font-size="15" text-anchor="middle">*</text>
<text transform="translate(146.2,499) rotate(-90)" font-size="11" text-anchor="end" textLength="64.8" lengthAdjust="spacingAndGlyphs">Similar to SOC</text>
<text transform="translate(156.5,499) rotate(-90)" font-size="11" text-anchor="end" textLength="31.4" lengthAdjust="spacingAndGlyphs">in RMM</text>
<text transform="translate(190,499) rotate(-90)" font-size="11" text-anchor="end" textLength="71.8" lengthAdjust="spacingAndGlyphs">Better than SOC</text>
<text transform="translate(200.3,499) rotate(-90)" font-size="11" text-anchor="end" textLength="31.4" lengthAdjust="spacingAndGlyphs">in RMM</text>
<text transform="translate(293.2,499) rotate(-90)" font-size="11" text-anchor="end" textLength="64.8" lengthAdjust="spacingAndGlyphs">Similar to SOC</text>
<text transform="translate(303.5,499) rotate(-90)" font-size="11" text-anchor="end" textLength="31.8" lengthAdjust="spacingAndGlyphs">in BMM</text>
<text transform="translate(336.6,499) rotate(-90)" font-size="11" text-anchor="end" textLength="71.8" lengthAdjust="spacingAndGlyphs">Better than SOC</text>
<text transform="translate(346.9,499) rotate(-90)" font-size="11" text-anchor="end" textLength="31.8" lengthAdjust="spacingAndGlyphs">in BMM</text>
<text transform="translate(439.8,499) rotate(-90)" font-size="11" text-anchor="end" textLength="64.8" lengthAdjust="spacingAndGlyphs">Similar to SOC</text>
<text transform="translate(450.1,499) rotate(-90)" font-size="11" text-anchor="end" textLength="38" lengthAdjust="spacingAndGlyphs">in BgMM</text>
<text transform="translate(483.3,499) rotate(-90)" font-size="11" text-anchor="end" textLength="71.8" lengthAdjust="spacingAndGlyphs">Better than SOC</text>
<text transform="translate(493.6,499) rotate(-90)" font-size="11" text-anchor="end" textLength="38" lengthAdjust="spacingAndGlyphs">in BgMM</text>
<text transform="translate(586.8,499) rotate(-90)" font-size="11" text-anchor="end" textLength="64.8" lengthAdjust="spacingAndGlyphs">Similar to SOC</text>
<text transform="translate(597.1,499) rotate(-90)" font-size="11" text-anchor="end" textLength="62.6" lengthAdjust="spacingAndGlyphs">in clinical trial</text>
<text transform="translate(630.2,499) rotate(-90)" font-size="11" text-anchor="end" textLength="71.8" lengthAdjust="spacingAndGlyphs">Better than SOC</text>
<text transform="translate(640.5,499) rotate(-90)" font-size="11" text-anchor="end" textLength="62.6" lengthAdjust="spacingAndGlyphs">in clinical trial</text>
<text x="-0.2" y="591.8" font-size="16.5" font-weight="bold" textLength="10.4" lengthAdjust="spacingAndGlyphs" fill="#111" stroke="#111" stroke-width="0.6">d</text>
<path d="M119.5,594.9 L119.5,716.4 L220.4,716.4" fill="none" stroke="#858585" stroke-width="1.1" stroke-linejoin="round"/>
<text x="113.6" y="628.6" font-size="9.8" text-anchor="end" textLength="6.2" lengthAdjust="spacingAndGlyphs" fill="#3a3a3a">5</text>
<text x="113.6" y="659.1" font-size="9.8" text-anchor="end" textLength="6.2" lengthAdjust="spacingAndGlyphs" fill="#3a3a3a">0</text>
<text x="113.6" y="689.6" font-size="9.8" text-anchor="end" textLength="10.8" lengthAdjust="spacingAndGlyphs" fill="#3a3a3a">−5</text>
<path d="M266.5,594.9 L266.5,716.4 L367,716.4" fill="none" stroke="#858585" stroke-width="1.1" stroke-linejoin="round"/>
<text x="262.9" y="628.6" font-size="9.8" text-anchor="end" textLength="6.2" lengthAdjust="spacingAndGlyphs" fill="#3a3a3a">5</text>
<text x="262.9" y="659.1" font-size="9.8" text-anchor="end" textLength="6.2" lengthAdjust="spacingAndGlyphs" fill="#3a3a3a">0</text>
<text x="262.9" y="689.6" font-size="9.8" text-anchor="end" textLength="10.8" lengthAdjust="spacingAndGlyphs" fill="#3a3a3a">−5</text>
<path d="M412.5,594.9 L412.5,716.4 L514.2,716.4" fill="none" stroke="#858585" stroke-width="1.1" stroke-linejoin="round"/>
<text x="408.7" y="628.6" font-size="9.8" text-anchor="end" textLength="6.2" lengthAdjust="spacingAndGlyphs" fill="#3a3a3a">5</text>
<text x="408.7" y="659.1" font-size="9.8" text-anchor="end" textLength="6.2" lengthAdjust="spacingAndGlyphs" fill="#3a3a3a">0</text>
<text x="408.7" y="689.6" font-size="9.8" text-anchor="end" textLength="10.8" lengthAdjust="spacingAndGlyphs" fill="#3a3a3a">−5</text>
<path d="M560,594.9 L560,716.4 L660.7,716.4" fill="none" stroke="#858585" stroke-width="1.1" stroke-linejoin="round"/>
<text x="556.4" y="628.6" font-size="9.8" text-anchor="end" textLength="6.2" lengthAdjust="spacingAndGlyphs" fill="#3a3a3a">5</text>
<text x="556.4" y="659.1" font-size="9.8" text-anchor="end" textLength="6.2" lengthAdjust="spacingAndGlyphs" fill="#3a3a3a">0</text>
<text x="556.4" y="689.6" font-size="9.8" text-anchor="end" textLength="10.8" lengthAdjust="spacingAndGlyphs" fill="#3a3a3a">−5</text>
<text transform="translate(59.2,653.4) rotate(-90)" font-size="12" text-anchor="middle" textLength="81.9" lengthAdjust="spacing">In vitro growth</text>
<text transform="translate(82.8,655.2) rotate(-90)" font-size="11.5" text-anchor="middle" textLength="60.8" lengthAdjust="spacingAndGlyphs">Median MIC</text>
<text transform="translate(96.5,655.3) rotate(-90)" font-size="11.5" text-anchor="middle">(log<tspan font-size="7.5" dy="2.5">2</tspan><tspan dy="-2.5">)</tspan></text>
<line x1="478.9" y1="662.9" x2="490.3" y2="662.9" stroke="#bbb" stroke-width="0.9"/>
<line x1="484.4" y1="662.9" x2="484.4" y2="664.6" stroke="#bbb" stroke-width="0.9"/>
<line x1="148.3" y1="651.7" x2="148.3" y2="632.4" stroke="#333" stroke-width="0.8"/>
<line x1="141.2" y1="632.4" x2="155.9" y2="632.4" stroke="#333" stroke-width="0.8"/>
<line x1="148.3" y1="670.1" x2="148.3" y2="678.1" stroke="#333" stroke-width="0.8"/>
<line x1="141.2" y1="678.1" x2="155.9" y2="678.1" stroke="#333" stroke-width="0.8"/>
<rect x="134.9" y="651.7" width="26.8" height="18.4" fill="#f27a76" stroke="#333" stroke-width="0.8"/>
<line x1="134.9" y1="658.3" x2="161.7" y2="658.3" stroke="#333" stroke-width="0.8"/>
<g fill="#151515">
<circle cx="148.2" cy="632.4" r="1.42"/>
<circle cx="135.9" cy="652.2" r="1.42"/>
<circle cx="141.2" cy="652.2" r="1.42"/>
<circle cx="155.9" cy="653.4" r="1.42"/>
<circle cx="160.5" cy="652.2" r="1.42"/>
<circle cx="150.6" cy="655.2" r="1.42"/>
<circle cx="141.2" cy="658.3" r="1.42"/>
<circle cx="145.9" cy="658.3" r="1.42"/>
<circle cx="155.9" cy="658.3" r="1.42"/>
<circle cx="150.6" cy="661.5" r="1.42"/>
<circle cx="145.9" cy="663.2" r="1.42"/>
<circle cx="143.3" cy="673.7" r="1.42"/>
<circle cx="148.2" cy="673.7" r="1.42"/>
<circle cx="152.9" cy="673.7" r="1.42"/>
</g>
<circle cx="145.9" cy="653.9" r="2.95" fill="#27aae1" stroke="#333" stroke-width="0.45"/>
<circle cx="148.2" cy="678.1" r="2.95" fill="#2b3990" stroke="#333" stroke-width="0.45"/>
<line x1="191.45" y1="659.6" x2="191.45" y2="649.2" stroke="#333" stroke-width="0.8"/>
<line x1="184.5" y1="649.2" x2="198.5" y2="649.2" stroke="#333" stroke-width="0.8"/>
<line x1="191.45" y1="672.3" x2="191.45" y2="685.5" stroke="#333" stroke-width="0.8"/>
<line x1="184.5" y1="685.5" x2="198.5" y2="685.5" stroke="#333" stroke-width="0.8"/>
<rect x="178.3" y="659.6" width="26.3" height="12.7" fill="#0d8e8c" stroke="#333" stroke-width="0.8"/>
<line x1="178.3" y1="666.7" x2="204.6" y2="666.7" stroke="#333" stroke-width="0.8"/>
<g fill="#151515">
<circle cx="191.5" cy="649.2" r="1.42"/>
<circle cx="187.1" cy="652.2" r="1.42"/>
<circle cx="195.8" cy="652.2" r="1.42"/>
<circle cx="199.7" cy="653.4" r="1.42"/>
<circle cx="191.5" cy="655.7" r="1.42"/>
<circle cx="183.6" cy="658.3" r="1.42"/>
<circle cx="179.7" cy="660.1" r="1.42"/>
<circle cx="187.1" cy="661.5" r="1.42"/>
<circle cx="199.7" cy="661.5" r="1.42"/>
<circle cx="203.7" cy="661.5" r="1.42"/>
<circle cx="191.5" cy="667.1" r="1.42"/>
<circle cx="195.8" cy="666.2" r="1.42"/>
<circle cx="199.7" cy="667.1" r="1.42"/>
<circle cx="203.7" cy="667.1" r="1.42"/>
<circle cx="187.1" cy="669.7" r="1.42"/>
<circle cx="179.7" cy="667.1" r="1.42"/>
<circle cx="179.7" cy="670.9" r="1.42"/>
<circle cx="183.2" cy="673.7" r="1.42"/>
<circle cx="187.1" cy="673.7" r="1.42"/>
<circle cx="191.5" cy="675" r="1.42"/>
<circle cx="199.7" cy="673.7" r="1.42"/>
<circle cx="195.3" cy="676.4" r="1.42"/>
<circle cx="191.5" cy="679.7" r="1.42"/>
<circle cx="188.8" cy="685.5" r="1.42"/>
<circle cx="193.7" cy="685.5" r="1.42"/>
</g>
<circle cx="195.3" cy="658.3" r="2.95" fill="#9e1f63" stroke="#333" stroke-width="0.45"/>
<circle cx="183.2" cy="664.5" r="2.95" fill="#ed1c24" stroke="#333" stroke-width="0.45"/>
<line x1="295.05" y1="655.5" x2="295.05" y2="652.3" stroke="#333" stroke-width="0.8"/>
<line x1="288.4" y1="652.3" x2="302.3" y2="652.3" stroke="#333" stroke-width="0.8"/>
<line x1="295.05" y1="669.7" x2="295.05" y2="707.1" stroke="#333" stroke-width="0.8"/>
<line x1="288.4" y1="707.1" x2="302.3" y2="707.1" stroke="#333" stroke-width="0.8"/>
<rect x="281.8" y="655.5" width="26.5" height="14.2" fill="#f27a76" stroke="#333" stroke-width="0.8"/>
<line x1="281.8" y1="661.7" x2="308.3" y2="661.7" stroke="#333" stroke-width="0.8"/>
<g fill="#151515">
<circle cx="282.7" cy="652.3" r="1.42"/>
<circle cx="296.9" cy="652.3" r="1.42"/>
<circle cx="302.3" cy="652.3" r="1.42"/>
<circle cx="306.8" cy="652.3" r="1.42"/>
<circle cx="282.7" cy="658.7" r="1.42"/>
<circle cx="287.8" cy="658.7" r="1.42"/>
<circle cx="296.9" cy="659.8" r="1.42"/>
<circle cx="306.8" cy="658.3" r="1.42"/>
<circle cx="287.8" cy="662.1" r="1.42"/>
<circle cx="292.2" cy="661.2" r="1.42"/>
<circle cx="296.9" cy="661.2" r="1.42"/>
<circle cx="302.3" cy="661.7" r="1.42"/>
<circle cx="282.7" cy="664" r="1.42"/>
<circle cx="287.8" cy="667.4" r="1.42"/>
<circle cx="296.9" cy="668.2" r="1.42"/>
<circle cx="287.8" cy="673.5" r="1.42"/>
<circle cx="296.9" cy="671.6" r="1.42"/>
<circle cx="302.3" cy="672.6" r="1.42"/>
<circle cx="295" cy="685.8" r="1.42"/>
<circle cx="295" cy="707.1" r="1.42"/>
</g>
<circle cx="287.8" cy="653.6" r="2.95" fill="#27aae1" stroke="#333" stroke-width="0.45"/>
<line x1="338.5" y1="659.3" x2="338.5" y2="649.2" stroke="#333" stroke-width="0.8"/>
<line x1="331.1" y1="649.2" x2="345.3" y2="649.2" stroke="#333" stroke-width="0.8"/>
<line x1="338.5" y1="672.6" x2="338.5" y2="685.8" stroke="#333" stroke-width="0.8"/>
<line x1="331.1" y1="685.8" x2="345.3" y2="685.8" stroke="#333" stroke-width="0.8"/>
<rect x="325.4" y="659.3" width="26.2" height="13.3" fill="#0d8e8c" stroke="#333" stroke-width="0.8"/>
<line x1="325.4" y1="666.3" x2="351.6" y2="666.3" stroke="#333" stroke-width="0.8"/>
<g fill="#151515">
<circle cx="338.3" cy="649.2" r="1.42"/>
<circle cx="334.3" cy="652.3" r="1.42"/>
<circle cx="342.5" cy="652.3" r="1.42"/>
<circle cx="346.3" cy="653.6" r="1.42"/>
<circle cx="338.3" cy="656.4" r="1.42"/>
<circle cx="346.3" cy="658" r="1.42"/>
<circle cx="326.4" cy="665.9" r="1.42"/>
<circle cx="330.1" cy="664" r="1.42"/>
<circle cx="338.3" cy="664.4" r="1.42"/>
<circle cx="346.3" cy="666.9" r="1.42"/>
<circle cx="350.1" cy="665.9" r="1.42"/>
<circle cx="334.3" cy="668.2" r="1.42"/>
<circle cx="342.5" cy="668.2" r="1.42"/>
<circle cx="326.4" cy="670.7" r="1.42"/>
<circle cx="338.3" cy="670.7" r="1.42"/>
<circle cx="330.1" cy="673.5" r="1.42"/>
<circle cx="334.3" cy="673.5" r="1.42"/>
<circle cx="338.3" cy="673.5" r="1.42"/>
<circle cx="342.5" cy="673.5" r="1.42"/>
<circle cx="346.3" cy="673.5" r="1.42"/>
<circle cx="350.1" cy="673.5" r="1.42"/>
<circle cx="338.3" cy="679.2" r="1.42"/>
<circle cx="334.3" cy="685.8" r="1.42"/>
<circle cx="342.5" cy="685.8" r="1.42"/>
</g>
<circle cx="334.3" cy="658" r="2.95" fill="#9e1f63" stroke="#333" stroke-width="0.45"/>
<circle cx="342.5" cy="664.4" r="2.95" fill="#ed1c24" stroke="#333" stroke-width="0.45"/>
<line x1="441" y1="652.6" x2="441" y2="612.8" stroke="#333" stroke-width="0.8"/>
<line x1="434.3" y1="612.8" x2="448.6" y2="612.8" stroke="#333" stroke-width="0.8"/>
<line x1="441" y1="671.2" x2="441" y2="707.1" stroke="#333" stroke-width="0.8"/>
<line x1="434.3" y1="707.1" x2="448.6" y2="707.1" stroke="#333" stroke-width="0.8"/>
<rect x="427.7" y="652.6" width="26.6" height="18.6" fill="#f27a76" stroke="#333" stroke-width="0.8"/>
<line x1="427.7" y1="652.6" x2="454.3" y2="652.6" stroke="#333" stroke-width="0.8"/>
<g fill="#151515">
<circle cx="441" cy="612.8" r="1.42"/>
<circle cx="437.2" cy="649.2" r="1.42"/>
<circle cx="429" cy="652.3" r="1.42"/>
<circle cx="445.4" cy="652.3" r="1.42"/>
<circle cx="452.9" cy="652.3" r="1.42"/>
<circle cx="445.4" cy="658.3" r="1.42"/>
<circle cx="437.2" cy="661.6" r="1.42"/>
<circle cx="445.4" cy="703.9" r="1.42"/>
<circle cx="437.2" cy="707.1" r="1.42"/>
</g>
<circle cx="437.2" cy="654.1" r="2.95" fill="#27aae1" stroke="#333" stroke-width="0.45"/>
<rect x="471.4" y="664.6" width="26.1" height="8" fill="#0d8e8c" stroke="#333" stroke-width="0.8"/>
<line x1="471.4" y1="664.6" x2="497.5" y2="664.6" stroke="#333" stroke-width="0.8"/>
<g fill="#151515">
<circle cx="484.1" cy="663.1" r="1.42"/>
<circle cx="475.2" cy="664.4" r="1.42"/>
<circle cx="493.2" cy="665.9" r="1.42"/>
<circle cx="479.3" cy="673.5" r="1.42"/>
<circle cx="488.4" cy="673.5" r="1.42"/>
</g>
<line x1="588.4" y1="654.5" x2="588.4" y2="652.1" stroke="#333" stroke-width="0.8"/>
<line x1="583.7" y1="652.1" x2="595" y2="652.1" stroke="#333" stroke-width="0.8"/>
<line x1="588.4" y1="661.7" x2="588.4" y2="664" stroke="#333" stroke-width="0.8"/>
<line x1="581.8" y1="664" x2="595" y2="664" stroke="#333" stroke-width="0.8"/>
<rect x="575.1" y="654.5" width="26.6" height="7.2" fill="#f27a76" stroke="#333" stroke-width="0.8"/>
<line x1="575.1" y1="657.9" x2="601.7" y2="657.9" stroke="#333" stroke-width="0.8"/>
<g fill="#151515">
<circle cx="593.1" cy="652.1" r="1.42"/>
<circle cx="576.6" cy="654" r="1.42"/>
<circle cx="576.6" cy="658.3" r="1.42"/>
<circle cx="600.7" cy="655.5" r="1.42"/>
<circle cx="600.7" cy="661.6" r="1.42"/>
<circle cx="593.1" cy="663.1" r="1.42"/>
<circle cx="576.6" cy="664.4" r="1.42"/>
</g>
<circle cx="584.6" cy="654" r="2.95" fill="#27aae1" stroke="#333" stroke-width="0.45"/>
<line x1="632.05" y1="657.4" x2="632.05" y2="652.1" stroke="#333" stroke-width="0.8"/>
<line x1="625.4" y1="652.1" x2="638.7" y2="652.1" stroke="#333" stroke-width="0.8"/>
<line x1="632.05" y1="666.5" x2="632.05" y2="670.7" stroke="#333" stroke-width="0.8"/>
<line x1="625.4" y1="670.7" x2="638.7" y2="670.7" stroke="#333" stroke-width="0.8"/>
<rect x="618.8" y="657.4" width="26.5" height="9.1" fill="#0d8e8c" stroke="#333" stroke-width="0.8"/>
<line x1="618.8" y1="662.7" x2="645.3" y2="662.7" stroke="#333" stroke-width="0.8"/>
<g fill="#151515">
<circle cx="632" cy="652.1" r="1.42"/>
<circle cx="622.9" cy="662.7" r="1.42"/>
<circle cx="641.2" cy="662.7" r="1.42"/>
<circle cx="632" cy="665.9" r="1.42"/>
<circle cx="632" cy="670.7" r="1.42"/>
</g>
<circle cx="632" cy="658.3" r="2.95" fill="#9e1f63" stroke="#333" stroke-width="0.45"/>
<path d="M148.2,625 L148.2,618 L191.5,618 L191.5,625" fill="none" stroke="#555" stroke-width="0.8"/>
<text x="168.9" y="611.4" font-size="10.5" text-anchor="middle">NS</text>
<path d="M295,641.6 L295,634.6 L338.3,634.6 L338.3,641.6" fill="none" stroke="#555" stroke-width="0.8"/>
<text x="315.5" y="628.9" font-size="10.5" text-anchor="middle">NS</text>
<path d="M441,605.2 L441,598.4 L484.6,598.4 L484.6,605.2" fill="none" stroke="#555" stroke-width="0.8"/>
<text x="461.5" y="592.1" font-size="10.5" text-anchor="middle">NS</text>
<path d="M588.4,645 L588.4,637.8 L632.4,637.8 L632.4,645" fill="none" stroke="#555" stroke-width="0.8"/>
<text x="609.5" y="631.4" font-size="10.5" text-anchor="middle">NS</text>
<text transform="translate(146.7,721.5) rotate(-90)" font-size="11" text-anchor="end" textLength="64.8" lengthAdjust="spacingAndGlyphs">Similar to SOC</text>
<text transform="translate(157,721.5) rotate(-90)" font-size="11" text-anchor="end" textLength="31.4" lengthAdjust="spacingAndGlyphs">in RMM</text>
<text transform="translate(190,721.5) rotate(-90)" font-size="11" text-anchor="end" textLength="71.8" lengthAdjust="spacingAndGlyphs">Better than SOC</text>
<text transform="translate(200.3,721.5) rotate(-90)" font-size="11" text-anchor="end" textLength="31.4" lengthAdjust="spacingAndGlyphs">in RMM</text>
<text transform="translate(293.5,721.5) rotate(-90)" font-size="11" text-anchor="end" textLength="64.8" lengthAdjust="spacingAndGlyphs">Similar to SOC</text>
<text transform="translate(303.8,721.5) rotate(-90)" font-size="11" text-anchor="end" textLength="31.8" lengthAdjust="spacingAndGlyphs">in BMM</text>
<text transform="translate(336.8,721.5) rotate(-90)" font-size="11" text-anchor="end" textLength="71.8" lengthAdjust="spacingAndGlyphs">Better than SOC</text>
<text transform="translate(347.1,721.5) rotate(-90)" font-size="11" text-anchor="end" textLength="31.8" lengthAdjust="spacingAndGlyphs">in BMM</text>
<text transform="translate(439.5,721.5) rotate(-90)" font-size="11" text-anchor="end" textLength="64.8" lengthAdjust="spacingAndGlyphs">Similar to SOC</text>
<text transform="translate(449.8,721.5) rotate(-90)" font-size="11" text-anchor="end" textLength="38" lengthAdjust="spacingAndGlyphs">in BgMM</text>
<text transform="translate(482.6,721.5) rotate(-90)" font-size="11" text-anchor="end" textLength="71.8" lengthAdjust="spacingAndGlyphs">Better than SOC</text>
<text transform="translate(492.9,721.5) rotate(-90)" font-size="11" text-anchor="end" textLength="38" lengthAdjust="spacingAndGlyphs">in BgMM</text>
<text transform="translate(586.9,721.5) rotate(-90)" font-size="11" text-anchor="end" textLength="64.8" lengthAdjust="spacingAndGlyphs">Similar to SOC</text>
<text transform="translate(597.2,721.5) rotate(-90)" font-size="11" text-anchor="end" textLength="62.6" lengthAdjust="spacingAndGlyphs">in clinical trial</text>
<text transform="translate(630.5,721.5) rotate(-90)" font-size="11" text-anchor="end" textLength="71.8" lengthAdjust="spacingAndGlyphs">Better than SOC</text>
<text transform="translate(640.8,721.5) rotate(-90)" font-size="11" text-anchor="end" textLength="62.6" lengthAdjust="spacingAndGlyphs">in clinical trial</text>
<text x="376.9" y="819.1" font-size="11.5" text-anchor="end" textLength="205" lengthAdjust="spacing">In vivo classification of drugs regimens</text>
<text x="376.9" y="832.2" font-size="11.5" text-anchor="end" textLength="187" lengthAdjust="spacing">based on mouse/human outcomes:</text>
<rect x="393.6" y="816.1" width="9.4" height="9.9" fill="#f27a76" stroke="#333" stroke-width="0.8"/>
<rect x="511.5" y="816.1" width="9.4" height="9.9" fill="#0d8e8c" stroke="#333" stroke-width="0.8"/>
<text x="408.9" y="818.6" font-size="11.5" textLength="49.9" lengthAdjust="spacing">Similar to</text>
<text x="408.9" y="830.6" font-size="11.5" textLength="86.9" lengthAdjust="spacing">standard-of-care</text>
<text x="526" y="818.6" font-size="11.5" textLength="57.5" lengthAdjust="spacing">Better than</text>
<text x="526" y="830.6" font-size="11.5" textLength="86.4" lengthAdjust="spacing">standard-of-care</text>
</svg>
</body></html>
